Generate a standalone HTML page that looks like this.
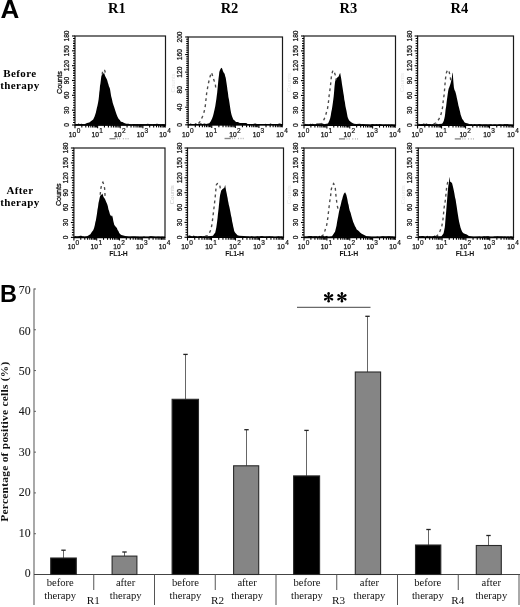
<!DOCTYPE html>
<html><head><meta charset="utf-8"><style>
html,body{margin:0;padding:0;background:#fff;}
body{width:520px;height:607px;overflow:hidden;font-family:"Liberation Sans", sans-serif;}
svg{display:block;will-change:transform;}
</style></head><body>
<svg width="520" height="607" viewBox="0 0 520 607">
<rect width="520" height="607" fill="#fff"/>
<text x="0.4" y="17.9" font-family='"Liberation Sans", sans-serif' font-weight="bold" font-size="26" fill="#000">A</text>
<text x="116.8" y="13.2" text-anchor="middle" font-family='"Liberation Serif", serif' font-weight="bold" font-size="14.5" fill="#000">R1</text>
<text x="229.5" y="13.2" text-anchor="middle" font-family='"Liberation Serif", serif' font-weight="bold" font-size="14.5" fill="#000">R2</text>
<text x="348.3" y="13.2" text-anchor="middle" font-family='"Liberation Serif", serif' font-weight="bold" font-size="14.5" fill="#000">R3</text>
<text x="459.4" y="13.2" text-anchor="middle" font-family='"Liberation Serif", serif' font-weight="bold" font-size="14.5" fill="#000">R4</text>
<text x="19.9" y="76.7" text-anchor="middle" font-family='"Liberation Serif", serif' font-weight="bold" font-size="11" letter-spacing="0.4" fill="#000">Before</text>
<text x="19.9" y="88.9" text-anchor="middle" font-family='"Liberation Serif", serif' font-weight="bold" font-size="11" letter-spacing="0.4" fill="#000">therapy</text>
<text x="19.9" y="193.8" text-anchor="middle" font-family='"Liberation Serif", serif' font-weight="bold" font-size="11" letter-spacing="0.4" fill="#000">After</text>
<text x="19.9" y="206.3" text-anchor="middle" font-family='"Liberation Serif", serif' font-weight="bold" font-size="11" letter-spacing="0.4" fill="#000">therapy</text>
<path d="M75.5,125.0 L76.0,124.0 L77.3,124.2 L78.6,123.6 L79.9,124.3 L81.2,123.8 L82.5,124.0 L83.8,124.3 L85.0,124.1 L87.0,123.0 L89.3,122.4 L91.2,121.0 L93.2,119.4 L94.6,116.4 L95.9,112.5 L96.7,108.7 L97.5,105.5 L98.1,102.5 L98.6,99.5 L99.0,95.9 L99.3,92.5 L99.7,89.7 L100.0,85.7 L100.4,83.7 L100.8,80.5 L101.3,76.5 L101.8,75.0 L102.4,73.9 L103.2,73.7 L104.0,72.7 L104.6,74.6 L105.1,75.9 L105.9,77.4 L106.7,79.0 L107.3,80.6 L107.8,82.4 L108.4,84.2 L108.9,86.3 L109.5,87.4 L110.0,89.1 L110.6,92.7 L111.1,95.9 L111.9,99.0 L112.7,102.7 L113.5,105.2 L114.3,107.6 L115.4,111.1 L116.5,114.3 L117.6,116.9 L118.7,118.9 L119.8,120.0 L120.9,121.8 L122.5,122.0 L124.1,122.9 L126.3,123.8 L128.5,123.8 L130.0,124.3 L131.5,124.7 L133.0,124.1 L134.5,124.0 L136.0,124.2 L137.5,123.9 L139.0,124.4 L140.5,124.1 L142.0,124.2 L143.5,124.2 L145.0,124.3 L146.5,123.9 L148.0,123.8 L149.5,124.3 L151.0,124.1 L152.5,124.6 L154.0,124.1 L155.5,124.1 L157.0,123.8 L158.5,124.0 L160.0,124.4 L161.5,124.4 L163.0,124.1 L165.0,125.0 Z" fill="#000" stroke="none"/>
<path d="M102.2,74.5 L102.6,71.5 L103.5,69.6 L104.5,70.2 L105.1,71.4 L104.8,73.2" fill="none" stroke="#4a4a4a" stroke-width="1.35" stroke-dasharray="2.8,3.2"/>
<rect x="75" y="36" width="90.5" height="89" fill="none" stroke="#1a1a1a" stroke-width="1.2"/>
<line x1="75" y1="125" x2="165.5" y2="125" stroke="#000" stroke-width="1.6"/>
<line x1="72.00" y1="125.00" x2="75" y2="125.00" stroke="#000" stroke-width="1.1"/>
<line x1="73.00" y1="122.53" x2="75" y2="122.53" stroke="#000" stroke-width="1.1"/>
<line x1="73.00" y1="120.06" x2="75" y2="120.06" stroke="#000" stroke-width="1.1"/>
<line x1="73.00" y1="117.58" x2="75" y2="117.58" stroke="#000" stroke-width="1.1"/>
<line x1="73.00" y1="115.11" x2="75" y2="115.11" stroke="#000" stroke-width="1.1"/>
<line x1="73.00" y1="112.64" x2="75" y2="112.64" stroke="#000" stroke-width="1.1"/>
<line x1="72.00" y1="110.17" x2="75" y2="110.17" stroke="#000" stroke-width="1.1"/>
<line x1="73.00" y1="107.69" x2="75" y2="107.69" stroke="#000" stroke-width="1.1"/>
<line x1="73.00" y1="105.22" x2="75" y2="105.22" stroke="#000" stroke-width="1.1"/>
<line x1="73.00" y1="102.75" x2="75" y2="102.75" stroke="#000" stroke-width="1.1"/>
<line x1="73.00" y1="100.28" x2="75" y2="100.28" stroke="#000" stroke-width="1.1"/>
<line x1="73.00" y1="97.81" x2="75" y2="97.81" stroke="#000" stroke-width="1.1"/>
<line x1="72.00" y1="95.33" x2="75" y2="95.33" stroke="#000" stroke-width="1.1"/>
<line x1="73.00" y1="92.86" x2="75" y2="92.86" stroke="#000" stroke-width="1.1"/>
<line x1="73.00" y1="90.39" x2="75" y2="90.39" stroke="#000" stroke-width="1.1"/>
<line x1="73.00" y1="87.92" x2="75" y2="87.92" stroke="#000" stroke-width="1.1"/>
<line x1="73.00" y1="85.44" x2="75" y2="85.44" stroke="#000" stroke-width="1.1"/>
<line x1="73.00" y1="82.97" x2="75" y2="82.97" stroke="#000" stroke-width="1.1"/>
<line x1="72.00" y1="80.50" x2="75" y2="80.50" stroke="#000" stroke-width="1.1"/>
<line x1="73.00" y1="78.03" x2="75" y2="78.03" stroke="#000" stroke-width="1.1"/>
<line x1="73.00" y1="75.56" x2="75" y2="75.56" stroke="#000" stroke-width="1.1"/>
<line x1="73.00" y1="73.08" x2="75" y2="73.08" stroke="#000" stroke-width="1.1"/>
<line x1="73.00" y1="70.61" x2="75" y2="70.61" stroke="#000" stroke-width="1.1"/>
<line x1="73.00" y1="68.14" x2="75" y2="68.14" stroke="#000" stroke-width="1.1"/>
<line x1="72.00" y1="65.67" x2="75" y2="65.67" stroke="#000" stroke-width="1.1"/>
<line x1="73.00" y1="63.19" x2="75" y2="63.19" stroke="#000" stroke-width="1.1"/>
<line x1="73.00" y1="60.72" x2="75" y2="60.72" stroke="#000" stroke-width="1.1"/>
<line x1="73.00" y1="58.25" x2="75" y2="58.25" stroke="#000" stroke-width="1.1"/>
<line x1="73.00" y1="55.78" x2="75" y2="55.78" stroke="#000" stroke-width="1.1"/>
<line x1="73.00" y1="53.31" x2="75" y2="53.31" stroke="#000" stroke-width="1.1"/>
<line x1="72.00" y1="50.83" x2="75" y2="50.83" stroke="#000" stroke-width="1.1"/>
<line x1="73.00" y1="48.36" x2="75" y2="48.36" stroke="#000" stroke-width="1.1"/>
<line x1="73.00" y1="45.89" x2="75" y2="45.89" stroke="#000" stroke-width="1.1"/>
<line x1="73.00" y1="43.42" x2="75" y2="43.42" stroke="#000" stroke-width="1.1"/>
<line x1="73.00" y1="40.94" x2="75" y2="40.94" stroke="#000" stroke-width="1.1"/>
<line x1="73.00" y1="38.47" x2="75" y2="38.47" stroke="#000" stroke-width="1.1"/>
<line x1="72.00" y1="36.00" x2="75" y2="36.00" stroke="#000" stroke-width="1.1"/>
<text transform="translate(69.10,125.00) rotate(-90)" text-anchor="middle" font-family='"Liberation Sans", sans-serif' font-size="6.7" fill="#111" stroke="#111" stroke-width="0.25">0</text>
<text transform="translate(69.10,110.17) rotate(-90)" text-anchor="middle" font-family='"Liberation Sans", sans-serif' font-size="6.7" fill="#111" stroke="#111" stroke-width="0.25">30</text>
<text transform="translate(69.10,95.33) rotate(-90)" text-anchor="middle" font-family='"Liberation Sans", sans-serif' font-size="6.7" fill="#111" stroke="#111" stroke-width="0.25">60</text>
<text transform="translate(69.10,80.50) rotate(-90)" text-anchor="middle" font-family='"Liberation Sans", sans-serif' font-size="6.7" fill="#111" stroke="#111" stroke-width="0.25">90</text>
<text transform="translate(69.10,65.67) rotate(-90)" text-anchor="middle" font-family='"Liberation Sans", sans-serif' font-size="6.7" fill="#111" stroke="#111" stroke-width="0.25">120</text>
<text transform="translate(69.10,50.83) rotate(-90)" text-anchor="middle" font-family='"Liberation Sans", sans-serif' font-size="6.7" fill="#111" stroke="#111" stroke-width="0.25">150</text>
<text transform="translate(69.10,36.00) rotate(-90)" text-anchor="middle" font-family='"Liberation Sans", sans-serif' font-size="6.7" fill="#111" stroke="#111" stroke-width="0.25">180</text>
<line x1="75.00" y1="125" x2="75.00" y2="128.2" stroke="#000" stroke-width="1.1"/>
<line x1="81.81" y1="125" x2="81.81" y2="127.4" stroke="#000" stroke-width="1.1"/>
<line x1="85.79" y1="125" x2="85.79" y2="127.4" stroke="#000" stroke-width="1.1"/>
<line x1="88.62" y1="125" x2="88.62" y2="127.4" stroke="#000" stroke-width="1.1"/>
<line x1="90.81" y1="125" x2="90.81" y2="127.4" stroke="#000" stroke-width="1.1"/>
<line x1="92.61" y1="125" x2="92.61" y2="127.4" stroke="#000" stroke-width="1.1"/>
<line x1="94.12" y1="125" x2="94.12" y2="127.4" stroke="#000" stroke-width="1.1"/>
<line x1="95.43" y1="125" x2="95.43" y2="127.4" stroke="#000" stroke-width="1.1"/>
<line x1="96.59" y1="125" x2="96.59" y2="127.4" stroke="#000" stroke-width="1.1"/>
<line x1="97.62" y1="125" x2="97.62" y2="128.2" stroke="#000" stroke-width="1.1"/>
<line x1="104.44" y1="125" x2="104.44" y2="127.4" stroke="#000" stroke-width="1.1"/>
<line x1="108.42" y1="125" x2="108.42" y2="127.4" stroke="#000" stroke-width="1.1"/>
<line x1="111.25" y1="125" x2="111.25" y2="127.4" stroke="#000" stroke-width="1.1"/>
<line x1="113.44" y1="125" x2="113.44" y2="127.4" stroke="#000" stroke-width="1.1"/>
<line x1="115.23" y1="125" x2="115.23" y2="127.4" stroke="#000" stroke-width="1.1"/>
<line x1="116.75" y1="125" x2="116.75" y2="127.4" stroke="#000" stroke-width="1.1"/>
<line x1="118.06" y1="125" x2="118.06" y2="127.4" stroke="#000" stroke-width="1.1"/>
<line x1="119.21" y1="125" x2="119.21" y2="127.4" stroke="#000" stroke-width="1.1"/>
<line x1="120.25" y1="125" x2="120.25" y2="128.2" stroke="#000" stroke-width="1.1"/>
<line x1="127.06" y1="125" x2="127.06" y2="127.4" stroke="#000" stroke-width="1.1"/>
<line x1="131.04" y1="125" x2="131.04" y2="127.4" stroke="#000" stroke-width="1.1"/>
<line x1="133.87" y1="125" x2="133.87" y2="127.4" stroke="#000" stroke-width="1.1"/>
<line x1="136.06" y1="125" x2="136.06" y2="127.4" stroke="#000" stroke-width="1.1"/>
<line x1="137.86" y1="125" x2="137.86" y2="127.4" stroke="#000" stroke-width="1.1"/>
<line x1="139.37" y1="125" x2="139.37" y2="127.4" stroke="#000" stroke-width="1.1"/>
<line x1="140.68" y1="125" x2="140.68" y2="127.4" stroke="#000" stroke-width="1.1"/>
<line x1="141.84" y1="125" x2="141.84" y2="127.4" stroke="#000" stroke-width="1.1"/>
<line x1="142.88" y1="125" x2="142.88" y2="128.2" stroke="#000" stroke-width="1.1"/>
<line x1="149.69" y1="125" x2="149.69" y2="127.4" stroke="#000" stroke-width="1.1"/>
<line x1="153.67" y1="125" x2="153.67" y2="127.4" stroke="#000" stroke-width="1.1"/>
<line x1="156.50" y1="125" x2="156.50" y2="127.4" stroke="#000" stroke-width="1.1"/>
<line x1="158.69" y1="125" x2="158.69" y2="127.4" stroke="#000" stroke-width="1.1"/>
<line x1="160.48" y1="125" x2="160.48" y2="127.4" stroke="#000" stroke-width="1.1"/>
<line x1="162.00" y1="125" x2="162.00" y2="127.4" stroke="#000" stroke-width="1.1"/>
<line x1="163.31" y1="125" x2="163.31" y2="127.4" stroke="#000" stroke-width="1.1"/>
<line x1="164.46" y1="125" x2="164.46" y2="127.4" stroke="#000" stroke-width="1.1"/>
<line x1="165.50" y1="125" x2="165.50" y2="127.6" stroke="#000" stroke-width="0.8"/>
<text x="76.30" y="136.90" text-anchor="end" font-family='"Liberation Sans", sans-serif' font-size="6.7" fill="#111" stroke="#111" stroke-width="0.25">10</text>
<text x="76.70" y="132.70" text-anchor="start" font-family='"Liberation Sans", sans-serif' font-size="6.5" fill="#111" stroke="#111" stroke-width="0.2">0</text>
<text x="98.92" y="136.90" text-anchor="end" font-family='"Liberation Sans", sans-serif' font-size="6.7" fill="#111" stroke="#111" stroke-width="0.25">10</text>
<text x="99.33" y="132.70" text-anchor="start" font-family='"Liberation Sans", sans-serif' font-size="6.5" fill="#111" stroke="#111" stroke-width="0.2">1</text>
<text x="121.55" y="136.90" text-anchor="end" font-family='"Liberation Sans", sans-serif' font-size="6.7" fill="#111" stroke="#111" stroke-width="0.25">10</text>
<text x="121.95" y="132.70" text-anchor="start" font-family='"Liberation Sans", sans-serif' font-size="6.5" fill="#111" stroke="#111" stroke-width="0.2">2</text>
<text x="144.18" y="136.90" text-anchor="end" font-family='"Liberation Sans", sans-serif' font-size="6.7" fill="#111" stroke="#111" stroke-width="0.25">10</text>
<text x="144.57" y="132.70" text-anchor="start" font-family='"Liberation Sans", sans-serif' font-size="6.5" fill="#111" stroke="#111" stroke-width="0.2">3</text>
<text x="166.80" y="136.90" text-anchor="end" font-family='"Liberation Sans", sans-serif' font-size="6.7" fill="#111" stroke="#111" stroke-width="0.25">10</text>
<text x="167.20" y="132.70" text-anchor="start" font-family='"Liberation Sans", sans-serif' font-size="6.5" fill="#111" stroke="#111" stroke-width="0.2">4</text>
<rect x="109.45" y="138.00" width="6.2" height="1.4" fill="#8a8a8a"/>
<rect x="117.05" y="138.00" width="0.9" height="1.4" fill="#b0b0b0"/>
<rect x="119.25" y="138.00" width="0.9" height="1.4" fill="#b0b0b0"/>
<rect x="122.85" y="138.00" width="0.9" height="1.4" fill="#b0b0b0"/>
<rect x="125.45" y="138.00" width="0.9" height="1.4" fill="#b0b0b0"/>
<rect x="127.65" y="138.00" width="0.9" height="1.4" fill="#b0b0b0"/>
<text transform="translate(61.70,82.50) rotate(-90)" text-anchor="middle" font-family='"Liberation Sans", sans-serif' font-size="7.2" fill="#111" stroke="#111" stroke-width="0.3">Counts</text>
<path d="M188.7,124.8 L189.2,124.2 L190.5,123.6 L191.8,124.0 L193.1,124.1 L194.4,124.1 L195.7,123.3 L197.0,124.0 L198.3,123.9 L199.6,123.7 L200.9,123.2 L202.2,124.1 L203.5,123.7 L204.8,123.5 L206.0,124.1 L209.3,123.3 L210.8,121.3 L212.1,118.5 L213.0,115.9 L213.7,113.2 L214.5,109.8 L215.3,106.1 L215.9,102.1 L216.4,98.8 L216.8,95.6 L217.2,92.4 L217.5,89.3 L217.8,86.2 L218.2,82.1 L218.6,78.1 L219.0,75.1 L219.3,71.9 L220.0,70.1 L220.8,68.6 L221.8,67.8 L222.4,69.3 L222.9,71.0 L223.8,72.7 L224.6,73.7 L225.2,76.2 L225.7,77.7 L226.2,80.9 L226.7,84.2 L227.1,87.0 L227.5,90.3 L228.0,93.3 L228.4,97.1 L229.0,99.8 L229.5,103.1 L230.0,106.4 L230.5,109.7 L231.0,112.6 L231.6,115.0 L232.4,117.2 L233.3,119.5 L234.6,120.6 L236.0,121.9 L237.9,122.0 L239.8,123.1 L243.0,123.1 L246.3,122.9 L247.8,124.3 L249.3,124.2 L250.8,124.2 L252.3,124.4 L253.8,123.7 L255.3,123.6 L256.8,124.1 L258.3,124.1 L259.8,124.4 L261.3,124.4 L262.8,124.2 L264.3,124.3 L265.8,123.8 L267.3,124.4 L268.8,124.5 L270.3,123.6 L271.8,124.0 L273.3,124.4 L274.8,124.0 L276.3,124.5 L277.8,124.0 L279.3,123.6 L280.8,123.7 L282.0,124.8 Z" fill="#000" stroke="none"/>
<path d="M198.5,123.5 L200.4,121.2 L202.5,116.5 L203.9,112.5 L204.7,109.5 L205.2,106.7 L205.9,100.2 L206.6,93.7 L207.7,87.2 L208.4,83.4 L209.3,79.6 L210.4,75.5 L211.5,72.5 L212.7,76.0 L213.7,79.6 L214.5,81.8 L215.3,83.9 L215.9,89.3" fill="none" stroke="#4a4a4a" stroke-width="1.35" stroke-dasharray="2.8,3.2"/>
<rect x="188.2" y="37" width="94.30000000000001" height="87.8" fill="none" stroke="#1a1a1a" stroke-width="1.2"/>
<line x1="188.2" y1="124.8" x2="282.5" y2="124.8" stroke="#000" stroke-width="1.6"/>
<line x1="185.20" y1="124.80" x2="188.2" y2="124.80" stroke="#000" stroke-width="1.1"/>
<line x1="186.20" y1="122.61" x2="188.2" y2="122.61" stroke="#000" stroke-width="1.1"/>
<line x1="186.20" y1="120.41" x2="188.2" y2="120.41" stroke="#000" stroke-width="1.1"/>
<line x1="186.20" y1="118.22" x2="188.2" y2="118.22" stroke="#000" stroke-width="1.1"/>
<line x1="186.20" y1="116.02" x2="188.2" y2="116.02" stroke="#000" stroke-width="1.1"/>
<line x1="186.20" y1="113.83" x2="188.2" y2="113.83" stroke="#000" stroke-width="1.1"/>
<line x1="186.20" y1="111.63" x2="188.2" y2="111.63" stroke="#000" stroke-width="1.1"/>
<line x1="186.20" y1="109.44" x2="188.2" y2="109.44" stroke="#000" stroke-width="1.1"/>
<line x1="185.20" y1="107.24" x2="188.2" y2="107.24" stroke="#000" stroke-width="1.1"/>
<line x1="186.20" y1="105.05" x2="188.2" y2="105.05" stroke="#000" stroke-width="1.1"/>
<line x1="186.20" y1="102.85" x2="188.2" y2="102.85" stroke="#000" stroke-width="1.1"/>
<line x1="186.20" y1="100.66" x2="188.2" y2="100.66" stroke="#000" stroke-width="1.1"/>
<line x1="186.20" y1="98.46" x2="188.2" y2="98.46" stroke="#000" stroke-width="1.1"/>
<line x1="186.20" y1="96.27" x2="188.2" y2="96.27" stroke="#000" stroke-width="1.1"/>
<line x1="186.20" y1="94.07" x2="188.2" y2="94.07" stroke="#000" stroke-width="1.1"/>
<line x1="186.20" y1="91.88" x2="188.2" y2="91.88" stroke="#000" stroke-width="1.1"/>
<line x1="185.20" y1="89.68" x2="188.2" y2="89.68" stroke="#000" stroke-width="1.1"/>
<line x1="186.20" y1="87.48" x2="188.2" y2="87.48" stroke="#000" stroke-width="1.1"/>
<line x1="186.20" y1="85.29" x2="188.2" y2="85.29" stroke="#000" stroke-width="1.1"/>
<line x1="186.20" y1="83.09" x2="188.2" y2="83.09" stroke="#000" stroke-width="1.1"/>
<line x1="186.20" y1="80.90" x2="188.2" y2="80.90" stroke="#000" stroke-width="1.1"/>
<line x1="186.20" y1="78.70" x2="188.2" y2="78.70" stroke="#000" stroke-width="1.1"/>
<line x1="186.20" y1="76.51" x2="188.2" y2="76.51" stroke="#000" stroke-width="1.1"/>
<line x1="186.20" y1="74.31" x2="188.2" y2="74.31" stroke="#000" stroke-width="1.1"/>
<line x1="185.20" y1="72.12" x2="188.2" y2="72.12" stroke="#000" stroke-width="1.1"/>
<line x1="186.20" y1="69.92" x2="188.2" y2="69.92" stroke="#000" stroke-width="1.1"/>
<line x1="186.20" y1="67.73" x2="188.2" y2="67.73" stroke="#000" stroke-width="1.1"/>
<line x1="186.20" y1="65.53" x2="188.2" y2="65.53" stroke="#000" stroke-width="1.1"/>
<line x1="186.20" y1="63.34" x2="188.2" y2="63.34" stroke="#000" stroke-width="1.1"/>
<line x1="186.20" y1="61.15" x2="188.2" y2="61.15" stroke="#000" stroke-width="1.1"/>
<line x1="186.20" y1="58.95" x2="188.2" y2="58.95" stroke="#000" stroke-width="1.1"/>
<line x1="186.20" y1="56.75" x2="188.2" y2="56.75" stroke="#000" stroke-width="1.1"/>
<line x1="185.20" y1="54.56" x2="188.2" y2="54.56" stroke="#000" stroke-width="1.1"/>
<line x1="186.20" y1="52.37" x2="188.2" y2="52.37" stroke="#000" stroke-width="1.1"/>
<line x1="186.20" y1="50.17" x2="188.2" y2="50.17" stroke="#000" stroke-width="1.1"/>
<line x1="186.20" y1="47.97" x2="188.2" y2="47.97" stroke="#000" stroke-width="1.1"/>
<line x1="186.20" y1="45.78" x2="188.2" y2="45.78" stroke="#000" stroke-width="1.1"/>
<line x1="186.20" y1="43.58" x2="188.2" y2="43.58" stroke="#000" stroke-width="1.1"/>
<line x1="186.20" y1="41.39" x2="188.2" y2="41.39" stroke="#000" stroke-width="1.1"/>
<line x1="186.20" y1="39.20" x2="188.2" y2="39.20" stroke="#000" stroke-width="1.1"/>
<line x1="185.20" y1="37.00" x2="188.2" y2="37.00" stroke="#000" stroke-width="1.1"/>
<text transform="translate(182.30,124.80) rotate(-90)" text-anchor="middle" font-family='"Liberation Sans", sans-serif' font-size="6.7" fill="#111" stroke="#111" stroke-width="0.25">0</text>
<text transform="translate(182.30,107.24) rotate(-90)" text-anchor="middle" font-family='"Liberation Sans", sans-serif' font-size="6.7" fill="#111" stroke="#111" stroke-width="0.25">40</text>
<text transform="translate(182.30,89.68) rotate(-90)" text-anchor="middle" font-family='"Liberation Sans", sans-serif' font-size="6.7" fill="#111" stroke="#111" stroke-width="0.25">80</text>
<text transform="translate(182.30,72.12) rotate(-90)" text-anchor="middle" font-family='"Liberation Sans", sans-serif' font-size="6.7" fill="#111" stroke="#111" stroke-width="0.25">120</text>
<text transform="translate(182.30,54.56) rotate(-90)" text-anchor="middle" font-family='"Liberation Sans", sans-serif' font-size="6.7" fill="#111" stroke="#111" stroke-width="0.25">160</text>
<text transform="translate(182.30,37.00) rotate(-90)" text-anchor="middle" font-family='"Liberation Sans", sans-serif' font-size="6.7" fill="#111" stroke="#111" stroke-width="0.25">200</text>
<line x1="188.20" y1="124.8" x2="188.20" y2="128.0" stroke="#000" stroke-width="1.1"/>
<line x1="195.30" y1="124.8" x2="195.30" y2="127.2" stroke="#000" stroke-width="1.1"/>
<line x1="199.45" y1="124.8" x2="199.45" y2="127.2" stroke="#000" stroke-width="1.1"/>
<line x1="202.39" y1="124.8" x2="202.39" y2="127.2" stroke="#000" stroke-width="1.1"/>
<line x1="204.68" y1="124.8" x2="204.68" y2="127.2" stroke="#000" stroke-width="1.1"/>
<line x1="206.54" y1="124.8" x2="206.54" y2="127.2" stroke="#000" stroke-width="1.1"/>
<line x1="208.12" y1="124.8" x2="208.12" y2="127.2" stroke="#000" stroke-width="1.1"/>
<line x1="209.49" y1="124.8" x2="209.49" y2="127.2" stroke="#000" stroke-width="1.1"/>
<line x1="210.70" y1="124.8" x2="210.70" y2="127.2" stroke="#000" stroke-width="1.1"/>
<line x1="211.77" y1="124.8" x2="211.77" y2="128.0" stroke="#000" stroke-width="1.1"/>
<line x1="218.87" y1="124.8" x2="218.87" y2="127.2" stroke="#000" stroke-width="1.1"/>
<line x1="223.02" y1="124.8" x2="223.02" y2="127.2" stroke="#000" stroke-width="1.1"/>
<line x1="225.97" y1="124.8" x2="225.97" y2="127.2" stroke="#000" stroke-width="1.1"/>
<line x1="228.25" y1="124.8" x2="228.25" y2="127.2" stroke="#000" stroke-width="1.1"/>
<line x1="230.12" y1="124.8" x2="230.12" y2="127.2" stroke="#000" stroke-width="1.1"/>
<line x1="231.70" y1="124.8" x2="231.70" y2="127.2" stroke="#000" stroke-width="1.1"/>
<line x1="233.07" y1="124.8" x2="233.07" y2="127.2" stroke="#000" stroke-width="1.1"/>
<line x1="234.27" y1="124.8" x2="234.27" y2="127.2" stroke="#000" stroke-width="1.1"/>
<line x1="235.35" y1="124.8" x2="235.35" y2="128.0" stroke="#000" stroke-width="1.1"/>
<line x1="242.45" y1="124.8" x2="242.45" y2="127.2" stroke="#000" stroke-width="1.1"/>
<line x1="246.60" y1="124.8" x2="246.60" y2="127.2" stroke="#000" stroke-width="1.1"/>
<line x1="249.54" y1="124.8" x2="249.54" y2="127.2" stroke="#000" stroke-width="1.1"/>
<line x1="251.83" y1="124.8" x2="251.83" y2="127.2" stroke="#000" stroke-width="1.1"/>
<line x1="253.69" y1="124.8" x2="253.69" y2="127.2" stroke="#000" stroke-width="1.1"/>
<line x1="255.27" y1="124.8" x2="255.27" y2="127.2" stroke="#000" stroke-width="1.1"/>
<line x1="256.64" y1="124.8" x2="256.64" y2="127.2" stroke="#000" stroke-width="1.1"/>
<line x1="257.85" y1="124.8" x2="257.85" y2="127.2" stroke="#000" stroke-width="1.1"/>
<line x1="258.93" y1="124.8" x2="258.93" y2="128.0" stroke="#000" stroke-width="1.1"/>
<line x1="266.02" y1="124.8" x2="266.02" y2="127.2" stroke="#000" stroke-width="1.1"/>
<line x1="270.17" y1="124.8" x2="270.17" y2="127.2" stroke="#000" stroke-width="1.1"/>
<line x1="273.12" y1="124.8" x2="273.12" y2="127.2" stroke="#000" stroke-width="1.1"/>
<line x1="275.40" y1="124.8" x2="275.40" y2="127.2" stroke="#000" stroke-width="1.1"/>
<line x1="277.27" y1="124.8" x2="277.27" y2="127.2" stroke="#000" stroke-width="1.1"/>
<line x1="278.85" y1="124.8" x2="278.85" y2="127.2" stroke="#000" stroke-width="1.1"/>
<line x1="280.22" y1="124.8" x2="280.22" y2="127.2" stroke="#000" stroke-width="1.1"/>
<line x1="281.42" y1="124.8" x2="281.42" y2="127.2" stroke="#000" stroke-width="1.1"/>
<line x1="282.50" y1="124.8" x2="282.50" y2="127.39999999999999" stroke="#000" stroke-width="0.8"/>
<text x="189.50" y="136.70" text-anchor="end" font-family='"Liberation Sans", sans-serif' font-size="6.7" fill="#111" stroke="#111" stroke-width="0.25">10</text>
<text x="189.90" y="132.50" text-anchor="start" font-family='"Liberation Sans", sans-serif' font-size="6.5" fill="#111" stroke="#111" stroke-width="0.2">0</text>
<text x="213.07" y="136.70" text-anchor="end" font-family='"Liberation Sans", sans-serif' font-size="6.7" fill="#111" stroke="#111" stroke-width="0.25">10</text>
<text x="213.47" y="132.50" text-anchor="start" font-family='"Liberation Sans", sans-serif' font-size="6.5" fill="#111" stroke="#111" stroke-width="0.2">1</text>
<text x="236.65" y="136.70" text-anchor="end" font-family='"Liberation Sans", sans-serif' font-size="6.7" fill="#111" stroke="#111" stroke-width="0.25">10</text>
<text x="237.05" y="132.50" text-anchor="start" font-family='"Liberation Sans", sans-serif' font-size="6.5" fill="#111" stroke="#111" stroke-width="0.2">2</text>
<text x="260.23" y="136.70" text-anchor="end" font-family='"Liberation Sans", sans-serif' font-size="6.7" fill="#111" stroke="#111" stroke-width="0.25">10</text>
<text x="260.62" y="132.50" text-anchor="start" font-family='"Liberation Sans", sans-serif' font-size="6.5" fill="#111" stroke="#111" stroke-width="0.2">3</text>
<text x="283.80" y="136.70" text-anchor="end" font-family='"Liberation Sans", sans-serif' font-size="6.7" fill="#111" stroke="#111" stroke-width="0.25">10</text>
<text x="284.20" y="132.50" text-anchor="start" font-family='"Liberation Sans", sans-serif' font-size="6.5" fill="#111" stroke="#111" stroke-width="0.2">4</text>
<rect x="224.55" y="137.80" width="6.2" height="1.4" fill="#8a8a8a"/>
<rect x="232.15" y="137.80" width="0.9" height="1.4" fill="#b0b0b0"/>
<rect x="234.35" y="137.80" width="0.9" height="1.4" fill="#b0b0b0"/>
<rect x="237.95" y="137.80" width="0.9" height="1.4" fill="#b0b0b0"/>
<rect x="240.55" y="137.80" width="0.9" height="1.4" fill="#b0b0b0"/>
<rect x="242.75" y="137.80" width="0.9" height="1.4" fill="#b0b0b0"/>
<text transform="translate(174.90,82.90) rotate(-90)" text-anchor="middle" font-family='"Liberation Sans", sans-serif' font-size="6" fill="#e6e6e6">Counts</text>
<path d="M304.5,125.2 L305.0,123.8 L306.3,124.3 L307.6,124.2 L308.9,124.4 L310.2,123.7 L311.5,124.0 L312.8,123.7 L314.1,124.2 L315.4,124.3 L316.7,123.6 L318.0,123.4 L319.3,123.6 L320.6,123.6 L321.9,123.6 L323.2,123.7 L324.5,124.3 L325.0,124.0 L328.0,123.5 L329.2,120.9 L330.2,118.3 L330.8,115.3 L331.3,112.0 L331.9,109.2 L332.4,106.1 L332.9,102.4 L333.3,99.5 L333.7,96.2 L334.0,93.0 L334.3,89.2 L334.6,85.8 L335.1,81.5 L335.6,79.9 L336.2,78.7 L337.3,77.5 L338.4,76.7 L339.0,75.5 L339.5,74.1 L340.2,73.1 L340.7,76.1 L341.1,78.1 L341.6,81.3 L342.0,84.3 L342.7,88.6 L343.1,91.2 L343.5,93.7 L343.9,96.1 L344.3,99.4 L344.9,102.2 L345.4,106.0 L346.0,108.8 L346.5,111.0 L347.0,113.7 L347.6,116.9 L348.4,118.9 L349.2,120.6 L350.6,121.7 L352.0,122.7 L354.0,123.8 L356.3,123.9 L360.0,123.7 L361.5,124.2 L363.0,124.0 L364.5,124.3 L366.0,124.6 L367.5,124.4 L369.0,124.8 L370.5,124.9 L372.0,124.0 L373.5,124.3 L375.0,124.4 L376.5,124.1 L378.0,124.5 L379.5,124.1 L381.0,124.2 L382.5,124.7 L384.0,124.7 L385.5,124.6 L387.0,124.7 L388.5,124.4 L390.0,124.7 L391.5,124.5 L393.0,124.8 L395.0,125.2 Z" fill="#000" stroke="none"/>
<path d="M319.5,124.2 L321.5,123.6 L322.9,121.4 L324.2,119.2 L325.1,116.7 L325.9,114.3 L326.7,111.6 L327.5,108.9 L328.3,103.5 L329.1,95.9 L330.0,89.3 L330.8,82.8 L331.3,77.4 L332.0,73.5 L332.9,70.3 L333.8,71.5 L334.6,73.0 L335.7,76.3 L336.2,80.1" fill="none" stroke="#4a4a4a" stroke-width="1.35" stroke-dasharray="2.8,3.2"/>
<rect x="304" y="36" width="91.5" height="89.2" fill="none" stroke="#1a1a1a" stroke-width="1.2"/>
<line x1="304" y1="125.2" x2="395.5" y2="125.2" stroke="#000" stroke-width="1.6"/>
<line x1="301.00" y1="125.20" x2="304" y2="125.20" stroke="#000" stroke-width="1.1"/>
<line x1="302.00" y1="122.72" x2="304" y2="122.72" stroke="#000" stroke-width="1.1"/>
<line x1="302.00" y1="120.24" x2="304" y2="120.24" stroke="#000" stroke-width="1.1"/>
<line x1="302.00" y1="117.77" x2="304" y2="117.77" stroke="#000" stroke-width="1.1"/>
<line x1="302.00" y1="115.29" x2="304" y2="115.29" stroke="#000" stroke-width="1.1"/>
<line x1="302.00" y1="112.81" x2="304" y2="112.81" stroke="#000" stroke-width="1.1"/>
<line x1="301.00" y1="110.33" x2="304" y2="110.33" stroke="#000" stroke-width="1.1"/>
<line x1="302.00" y1="107.86" x2="304" y2="107.86" stroke="#000" stroke-width="1.1"/>
<line x1="302.00" y1="105.38" x2="304" y2="105.38" stroke="#000" stroke-width="1.1"/>
<line x1="302.00" y1="102.90" x2="304" y2="102.90" stroke="#000" stroke-width="1.1"/>
<line x1="302.00" y1="100.42" x2="304" y2="100.42" stroke="#000" stroke-width="1.1"/>
<line x1="302.00" y1="97.94" x2="304" y2="97.94" stroke="#000" stroke-width="1.1"/>
<line x1="301.00" y1="95.47" x2="304" y2="95.47" stroke="#000" stroke-width="1.1"/>
<line x1="302.00" y1="92.99" x2="304" y2="92.99" stroke="#000" stroke-width="1.1"/>
<line x1="302.00" y1="90.51" x2="304" y2="90.51" stroke="#000" stroke-width="1.1"/>
<line x1="302.00" y1="88.03" x2="304" y2="88.03" stroke="#000" stroke-width="1.1"/>
<line x1="302.00" y1="85.56" x2="304" y2="85.56" stroke="#000" stroke-width="1.1"/>
<line x1="302.00" y1="83.08" x2="304" y2="83.08" stroke="#000" stroke-width="1.1"/>
<line x1="301.00" y1="80.60" x2="304" y2="80.60" stroke="#000" stroke-width="1.1"/>
<line x1="302.00" y1="78.12" x2="304" y2="78.12" stroke="#000" stroke-width="1.1"/>
<line x1="302.00" y1="75.64" x2="304" y2="75.64" stroke="#000" stroke-width="1.1"/>
<line x1="302.00" y1="73.17" x2="304" y2="73.17" stroke="#000" stroke-width="1.1"/>
<line x1="302.00" y1="70.69" x2="304" y2="70.69" stroke="#000" stroke-width="1.1"/>
<line x1="302.00" y1="68.21" x2="304" y2="68.21" stroke="#000" stroke-width="1.1"/>
<line x1="301.00" y1="65.73" x2="304" y2="65.73" stroke="#000" stroke-width="1.1"/>
<line x1="302.00" y1="63.26" x2="304" y2="63.26" stroke="#000" stroke-width="1.1"/>
<line x1="302.00" y1="60.78" x2="304" y2="60.78" stroke="#000" stroke-width="1.1"/>
<line x1="302.00" y1="58.30" x2="304" y2="58.30" stroke="#000" stroke-width="1.1"/>
<line x1="302.00" y1="55.82" x2="304" y2="55.82" stroke="#000" stroke-width="1.1"/>
<line x1="302.00" y1="53.34" x2="304" y2="53.34" stroke="#000" stroke-width="1.1"/>
<line x1="301.00" y1="50.87" x2="304" y2="50.87" stroke="#000" stroke-width="1.1"/>
<line x1="302.00" y1="48.39" x2="304" y2="48.39" stroke="#000" stroke-width="1.1"/>
<line x1="302.00" y1="45.91" x2="304" y2="45.91" stroke="#000" stroke-width="1.1"/>
<line x1="302.00" y1="43.43" x2="304" y2="43.43" stroke="#000" stroke-width="1.1"/>
<line x1="302.00" y1="40.96" x2="304" y2="40.96" stroke="#000" stroke-width="1.1"/>
<line x1="302.00" y1="38.48" x2="304" y2="38.48" stroke="#000" stroke-width="1.1"/>
<line x1="301.00" y1="36.00" x2="304" y2="36.00" stroke="#000" stroke-width="1.1"/>
<text transform="translate(298.10,125.20) rotate(-90)" text-anchor="middle" font-family='"Liberation Sans", sans-serif' font-size="6.7" fill="#111" stroke="#111" stroke-width="0.25">0</text>
<text transform="translate(298.10,110.33) rotate(-90)" text-anchor="middle" font-family='"Liberation Sans", sans-serif' font-size="6.7" fill="#111" stroke="#111" stroke-width="0.25">30</text>
<text transform="translate(298.10,95.47) rotate(-90)" text-anchor="middle" font-family='"Liberation Sans", sans-serif' font-size="6.7" fill="#111" stroke="#111" stroke-width="0.25">60</text>
<text transform="translate(298.10,80.60) rotate(-90)" text-anchor="middle" font-family='"Liberation Sans", sans-serif' font-size="6.7" fill="#111" stroke="#111" stroke-width="0.25">90</text>
<text transform="translate(298.10,65.73) rotate(-90)" text-anchor="middle" font-family='"Liberation Sans", sans-serif' font-size="6.7" fill="#111" stroke="#111" stroke-width="0.25">120</text>
<text transform="translate(298.10,50.87) rotate(-90)" text-anchor="middle" font-family='"Liberation Sans", sans-serif' font-size="6.7" fill="#111" stroke="#111" stroke-width="0.25">150</text>
<text transform="translate(298.10,36.00) rotate(-90)" text-anchor="middle" font-family='"Liberation Sans", sans-serif' font-size="6.7" fill="#111" stroke="#111" stroke-width="0.25">180</text>
<line x1="304.00" y1="125.2" x2="304.00" y2="128.4" stroke="#000" stroke-width="1.1"/>
<line x1="310.89" y1="125.2" x2="310.89" y2="127.60000000000001" stroke="#000" stroke-width="1.1"/>
<line x1="314.91" y1="125.2" x2="314.91" y2="127.60000000000001" stroke="#000" stroke-width="1.1"/>
<line x1="317.77" y1="125.2" x2="317.77" y2="127.60000000000001" stroke="#000" stroke-width="1.1"/>
<line x1="319.99" y1="125.2" x2="319.99" y2="127.60000000000001" stroke="#000" stroke-width="1.1"/>
<line x1="321.80" y1="125.2" x2="321.80" y2="127.60000000000001" stroke="#000" stroke-width="1.1"/>
<line x1="323.33" y1="125.2" x2="323.33" y2="127.60000000000001" stroke="#000" stroke-width="1.1"/>
<line x1="324.66" y1="125.2" x2="324.66" y2="127.60000000000001" stroke="#000" stroke-width="1.1"/>
<line x1="325.83" y1="125.2" x2="325.83" y2="127.60000000000001" stroke="#000" stroke-width="1.1"/>
<line x1="326.88" y1="125.2" x2="326.88" y2="128.4" stroke="#000" stroke-width="1.1"/>
<line x1="333.76" y1="125.2" x2="333.76" y2="127.60000000000001" stroke="#000" stroke-width="1.1"/>
<line x1="337.79" y1="125.2" x2="337.79" y2="127.60000000000001" stroke="#000" stroke-width="1.1"/>
<line x1="340.65" y1="125.2" x2="340.65" y2="127.60000000000001" stroke="#000" stroke-width="1.1"/>
<line x1="342.86" y1="125.2" x2="342.86" y2="127.60000000000001" stroke="#000" stroke-width="1.1"/>
<line x1="344.68" y1="125.2" x2="344.68" y2="127.60000000000001" stroke="#000" stroke-width="1.1"/>
<line x1="346.21" y1="125.2" x2="346.21" y2="127.60000000000001" stroke="#000" stroke-width="1.1"/>
<line x1="347.53" y1="125.2" x2="347.53" y2="127.60000000000001" stroke="#000" stroke-width="1.1"/>
<line x1="348.70" y1="125.2" x2="348.70" y2="127.60000000000001" stroke="#000" stroke-width="1.1"/>
<line x1="349.75" y1="125.2" x2="349.75" y2="128.4" stroke="#000" stroke-width="1.1"/>
<line x1="356.64" y1="125.2" x2="356.64" y2="127.60000000000001" stroke="#000" stroke-width="1.1"/>
<line x1="360.66" y1="125.2" x2="360.66" y2="127.60000000000001" stroke="#000" stroke-width="1.1"/>
<line x1="363.52" y1="125.2" x2="363.52" y2="127.60000000000001" stroke="#000" stroke-width="1.1"/>
<line x1="365.74" y1="125.2" x2="365.74" y2="127.60000000000001" stroke="#000" stroke-width="1.1"/>
<line x1="367.55" y1="125.2" x2="367.55" y2="127.60000000000001" stroke="#000" stroke-width="1.1"/>
<line x1="369.08" y1="125.2" x2="369.08" y2="127.60000000000001" stroke="#000" stroke-width="1.1"/>
<line x1="370.41" y1="125.2" x2="370.41" y2="127.60000000000001" stroke="#000" stroke-width="1.1"/>
<line x1="371.58" y1="125.2" x2="371.58" y2="127.60000000000001" stroke="#000" stroke-width="1.1"/>
<line x1="372.62" y1="125.2" x2="372.62" y2="128.4" stroke="#000" stroke-width="1.1"/>
<line x1="379.51" y1="125.2" x2="379.51" y2="127.60000000000001" stroke="#000" stroke-width="1.1"/>
<line x1="383.54" y1="125.2" x2="383.54" y2="127.60000000000001" stroke="#000" stroke-width="1.1"/>
<line x1="386.40" y1="125.2" x2="386.40" y2="127.60000000000001" stroke="#000" stroke-width="1.1"/>
<line x1="388.61" y1="125.2" x2="388.61" y2="127.60000000000001" stroke="#000" stroke-width="1.1"/>
<line x1="390.43" y1="125.2" x2="390.43" y2="127.60000000000001" stroke="#000" stroke-width="1.1"/>
<line x1="391.96" y1="125.2" x2="391.96" y2="127.60000000000001" stroke="#000" stroke-width="1.1"/>
<line x1="393.28" y1="125.2" x2="393.28" y2="127.60000000000001" stroke="#000" stroke-width="1.1"/>
<line x1="394.45" y1="125.2" x2="394.45" y2="127.60000000000001" stroke="#000" stroke-width="1.1"/>
<line x1="395.50" y1="125.2" x2="395.50" y2="127.8" stroke="#000" stroke-width="0.8"/>
<text x="305.30" y="137.10" text-anchor="end" font-family='"Liberation Sans", sans-serif' font-size="6.7" fill="#111" stroke="#111" stroke-width="0.25">10</text>
<text x="305.70" y="132.90" text-anchor="start" font-family='"Liberation Sans", sans-serif' font-size="6.5" fill="#111" stroke="#111" stroke-width="0.2">0</text>
<text x="328.18" y="137.10" text-anchor="end" font-family='"Liberation Sans", sans-serif' font-size="6.7" fill="#111" stroke="#111" stroke-width="0.25">10</text>
<text x="328.57" y="132.90" text-anchor="start" font-family='"Liberation Sans", sans-serif' font-size="6.5" fill="#111" stroke="#111" stroke-width="0.2">1</text>
<text x="351.05" y="137.10" text-anchor="end" font-family='"Liberation Sans", sans-serif' font-size="6.7" fill="#111" stroke="#111" stroke-width="0.25">10</text>
<text x="351.45" y="132.90" text-anchor="start" font-family='"Liberation Sans", sans-serif' font-size="6.5" fill="#111" stroke="#111" stroke-width="0.2">2</text>
<text x="373.93" y="137.10" text-anchor="end" font-family='"Liberation Sans", sans-serif' font-size="6.7" fill="#111" stroke="#111" stroke-width="0.25">10</text>
<text x="374.32" y="132.90" text-anchor="start" font-family='"Liberation Sans", sans-serif' font-size="6.5" fill="#111" stroke="#111" stroke-width="0.2">3</text>
<text x="396.80" y="137.10" text-anchor="end" font-family='"Liberation Sans", sans-serif' font-size="6.7" fill="#111" stroke="#111" stroke-width="0.25">10</text>
<text x="397.20" y="132.90" text-anchor="start" font-family='"Liberation Sans", sans-serif' font-size="6.5" fill="#111" stroke="#111" stroke-width="0.2">4</text>
<rect x="338.95" y="138.20" width="6.2" height="1.4" fill="#8a8a8a"/>
<rect x="346.55" y="138.20" width="0.9" height="1.4" fill="#b0b0b0"/>
<rect x="348.75" y="138.20" width="0.9" height="1.4" fill="#b0b0b0"/>
<rect x="352.35" y="138.20" width="0.9" height="1.4" fill="#b0b0b0"/>
<rect x="354.95" y="138.20" width="0.9" height="1.4" fill="#b0b0b0"/>
<rect x="357.15" y="138.20" width="0.9" height="1.4" fill="#b0b0b0"/>
<text transform="translate(290.70,82.60) rotate(-90)" text-anchor="middle" font-family='"Liberation Sans", sans-serif' font-size="6" fill="#e6e6e6">Counts</text>
<path d="M418.1,125.2 L418.6,123.5 L419.9,124.2 L421.2,124.1 L422.5,123.9 L423.8,123.5 L425.1,124.1 L426.4,123.5 L427.7,124.0 L429.0,124.0 L430.3,124.0 L431.6,124.6 L432.9,124.1 L434.2,124.4 L435.5,124.6 L436.8,123.6 L438.1,124.4 L439.0,124.0 L442.1,123.8 L443.0,122.5 L443.8,120.7 L444.3,118.7 L444.8,116.5 L445.2,113.6 L445.6,109.6 L446.1,106.8 L446.5,103.3 L446.9,100.0 L447.3,97.2 L447.7,94.2 L448.1,91.6 L448.7,88.5 L449.2,87.6 L449.7,86.0 L450.4,84.1 L451.0,81.7 L451.5,79.5 L451.9,77.6 L452.2,73.5 L452.5,72.5 L452.8,74.5 L453.0,76.7 L453.4,82.2 L453.9,87.5 L454.5,89.9 L455.2,91.3 L455.8,93.3 L456.3,95.2 L456.8,97.8 L457.3,99.9 L457.9,102.7 L458.4,105.6 L459.0,107.6 L459.5,109.8 L460.0,111.6 L460.6,114.5 L461.4,116.8 L462.2,119.1 L463.3,120.2 L464.4,122.2 L465.7,123.0 L467.1,123.3 L470.0,124.3 L471.5,124.0 L473.0,124.7 L474.5,124.0 L476.0,124.5 L477.5,124.5 L479.0,124.0 L480.5,124.2 L482.0,124.8 L483.5,124.5 L485.0,124.4 L486.5,124.6 L488.0,124.7 L489.5,124.6 L491.0,124.3 L492.5,124.9 L494.0,124.4 L495.5,124.5 L497.0,124.9 L498.5,124.6 L500.0,124.3 L501.5,124.4 L503.0,124.8 L504.5,124.0 L506.0,124.2 L507.5,124.0 L509.0,124.8 L510.5,124.7 L512.0,124.9 L513.0,125.2 Z" fill="#000" stroke="none"/>
<path d="M433.5,124.0 L435.6,123.0 L437.3,121.2 L438.9,119.2 L440.0,116.8 L441.0,114.3 L441.8,111.0 L442.5,107.8 L443.2,101.3 L444.1,94.8 L444.6,89.3 L445.2,81.7 L445.9,75.2 L446.6,72.2 L447.6,69.8 L448.4,70.6 L449.2,72.0 L450.3,77.4 L450.8,80.7" fill="none" stroke="#4a4a4a" stroke-width="1.35" stroke-dasharray="2.8,3.2"/>
<rect x="417.6" y="36" width="95.89999999999998" height="89.2" fill="none" stroke="#1a1a1a" stroke-width="1.2"/>
<line x1="417.6" y1="125.2" x2="513.5" y2="125.2" stroke="#000" stroke-width="1.6"/>
<line x1="414.60" y1="125.20" x2="417.6" y2="125.20" stroke="#000" stroke-width="1.1"/>
<line x1="415.60" y1="122.72" x2="417.6" y2="122.72" stroke="#000" stroke-width="1.1"/>
<line x1="415.60" y1="120.24" x2="417.6" y2="120.24" stroke="#000" stroke-width="1.1"/>
<line x1="415.60" y1="117.77" x2="417.6" y2="117.77" stroke="#000" stroke-width="1.1"/>
<line x1="415.60" y1="115.29" x2="417.6" y2="115.29" stroke="#000" stroke-width="1.1"/>
<line x1="415.60" y1="112.81" x2="417.6" y2="112.81" stroke="#000" stroke-width="1.1"/>
<line x1="414.60" y1="110.33" x2="417.6" y2="110.33" stroke="#000" stroke-width="1.1"/>
<line x1="415.60" y1="107.86" x2="417.6" y2="107.86" stroke="#000" stroke-width="1.1"/>
<line x1="415.60" y1="105.38" x2="417.6" y2="105.38" stroke="#000" stroke-width="1.1"/>
<line x1="415.60" y1="102.90" x2="417.6" y2="102.90" stroke="#000" stroke-width="1.1"/>
<line x1="415.60" y1="100.42" x2="417.6" y2="100.42" stroke="#000" stroke-width="1.1"/>
<line x1="415.60" y1="97.94" x2="417.6" y2="97.94" stroke="#000" stroke-width="1.1"/>
<line x1="414.60" y1="95.47" x2="417.6" y2="95.47" stroke="#000" stroke-width="1.1"/>
<line x1="415.60" y1="92.99" x2="417.6" y2="92.99" stroke="#000" stroke-width="1.1"/>
<line x1="415.60" y1="90.51" x2="417.6" y2="90.51" stroke="#000" stroke-width="1.1"/>
<line x1="415.60" y1="88.03" x2="417.6" y2="88.03" stroke="#000" stroke-width="1.1"/>
<line x1="415.60" y1="85.56" x2="417.6" y2="85.56" stroke="#000" stroke-width="1.1"/>
<line x1="415.60" y1="83.08" x2="417.6" y2="83.08" stroke="#000" stroke-width="1.1"/>
<line x1="414.60" y1="80.60" x2="417.6" y2="80.60" stroke="#000" stroke-width="1.1"/>
<line x1="415.60" y1="78.12" x2="417.6" y2="78.12" stroke="#000" stroke-width="1.1"/>
<line x1="415.60" y1="75.64" x2="417.6" y2="75.64" stroke="#000" stroke-width="1.1"/>
<line x1="415.60" y1="73.17" x2="417.6" y2="73.17" stroke="#000" stroke-width="1.1"/>
<line x1="415.60" y1="70.69" x2="417.6" y2="70.69" stroke="#000" stroke-width="1.1"/>
<line x1="415.60" y1="68.21" x2="417.6" y2="68.21" stroke="#000" stroke-width="1.1"/>
<line x1="414.60" y1="65.73" x2="417.6" y2="65.73" stroke="#000" stroke-width="1.1"/>
<line x1="415.60" y1="63.26" x2="417.6" y2="63.26" stroke="#000" stroke-width="1.1"/>
<line x1="415.60" y1="60.78" x2="417.6" y2="60.78" stroke="#000" stroke-width="1.1"/>
<line x1="415.60" y1="58.30" x2="417.6" y2="58.30" stroke="#000" stroke-width="1.1"/>
<line x1="415.60" y1="55.82" x2="417.6" y2="55.82" stroke="#000" stroke-width="1.1"/>
<line x1="415.60" y1="53.34" x2="417.6" y2="53.34" stroke="#000" stroke-width="1.1"/>
<line x1="414.60" y1="50.87" x2="417.6" y2="50.87" stroke="#000" stroke-width="1.1"/>
<line x1="415.60" y1="48.39" x2="417.6" y2="48.39" stroke="#000" stroke-width="1.1"/>
<line x1="415.60" y1="45.91" x2="417.6" y2="45.91" stroke="#000" stroke-width="1.1"/>
<line x1="415.60" y1="43.43" x2="417.6" y2="43.43" stroke="#000" stroke-width="1.1"/>
<line x1="415.60" y1="40.96" x2="417.6" y2="40.96" stroke="#000" stroke-width="1.1"/>
<line x1="415.60" y1="38.48" x2="417.6" y2="38.48" stroke="#000" stroke-width="1.1"/>
<line x1="414.60" y1="36.00" x2="417.6" y2="36.00" stroke="#000" stroke-width="1.1"/>
<text transform="translate(411.70,125.20) rotate(-90)" text-anchor="middle" font-family='"Liberation Sans", sans-serif' font-size="6.7" fill="#111" stroke="#111" stroke-width="0.25">0</text>
<text transform="translate(411.70,110.33) rotate(-90)" text-anchor="middle" font-family='"Liberation Sans", sans-serif' font-size="6.7" fill="#111" stroke="#111" stroke-width="0.25">30</text>
<text transform="translate(411.70,95.47) rotate(-90)" text-anchor="middle" font-family='"Liberation Sans", sans-serif' font-size="6.7" fill="#111" stroke="#111" stroke-width="0.25">60</text>
<text transform="translate(411.70,80.60) rotate(-90)" text-anchor="middle" font-family='"Liberation Sans", sans-serif' font-size="6.7" fill="#111" stroke="#111" stroke-width="0.25">90</text>
<text transform="translate(411.70,65.73) rotate(-90)" text-anchor="middle" font-family='"Liberation Sans", sans-serif' font-size="6.7" fill="#111" stroke="#111" stroke-width="0.25">120</text>
<text transform="translate(411.70,50.87) rotate(-90)" text-anchor="middle" font-family='"Liberation Sans", sans-serif' font-size="6.7" fill="#111" stroke="#111" stroke-width="0.25">150</text>
<text transform="translate(411.70,36.00) rotate(-90)" text-anchor="middle" font-family='"Liberation Sans", sans-serif' font-size="6.7" fill="#111" stroke="#111" stroke-width="0.25">180</text>
<line x1="417.60" y1="125.2" x2="417.60" y2="128.4" stroke="#000" stroke-width="1.1"/>
<line x1="424.82" y1="125.2" x2="424.82" y2="127.60000000000001" stroke="#000" stroke-width="1.1"/>
<line x1="429.04" y1="125.2" x2="429.04" y2="127.60000000000001" stroke="#000" stroke-width="1.1"/>
<line x1="432.03" y1="125.2" x2="432.03" y2="127.60000000000001" stroke="#000" stroke-width="1.1"/>
<line x1="434.36" y1="125.2" x2="434.36" y2="127.60000000000001" stroke="#000" stroke-width="1.1"/>
<line x1="436.26" y1="125.2" x2="436.26" y2="127.60000000000001" stroke="#000" stroke-width="1.1"/>
<line x1="437.86" y1="125.2" x2="437.86" y2="127.60000000000001" stroke="#000" stroke-width="1.1"/>
<line x1="439.25" y1="125.2" x2="439.25" y2="127.60000000000001" stroke="#000" stroke-width="1.1"/>
<line x1="440.48" y1="125.2" x2="440.48" y2="127.60000000000001" stroke="#000" stroke-width="1.1"/>
<line x1="441.58" y1="125.2" x2="441.58" y2="128.4" stroke="#000" stroke-width="1.1"/>
<line x1="448.79" y1="125.2" x2="448.79" y2="127.60000000000001" stroke="#000" stroke-width="1.1"/>
<line x1="453.01" y1="125.2" x2="453.01" y2="127.60000000000001" stroke="#000" stroke-width="1.1"/>
<line x1="456.01" y1="125.2" x2="456.01" y2="127.60000000000001" stroke="#000" stroke-width="1.1"/>
<line x1="458.33" y1="125.2" x2="458.33" y2="127.60000000000001" stroke="#000" stroke-width="1.1"/>
<line x1="460.23" y1="125.2" x2="460.23" y2="127.60000000000001" stroke="#000" stroke-width="1.1"/>
<line x1="461.84" y1="125.2" x2="461.84" y2="127.60000000000001" stroke="#000" stroke-width="1.1"/>
<line x1="463.23" y1="125.2" x2="463.23" y2="127.60000000000001" stroke="#000" stroke-width="1.1"/>
<line x1="464.45" y1="125.2" x2="464.45" y2="127.60000000000001" stroke="#000" stroke-width="1.1"/>
<line x1="465.55" y1="125.2" x2="465.55" y2="128.4" stroke="#000" stroke-width="1.1"/>
<line x1="472.77" y1="125.2" x2="472.77" y2="127.60000000000001" stroke="#000" stroke-width="1.1"/>
<line x1="476.99" y1="125.2" x2="476.99" y2="127.60000000000001" stroke="#000" stroke-width="1.1"/>
<line x1="479.98" y1="125.2" x2="479.98" y2="127.60000000000001" stroke="#000" stroke-width="1.1"/>
<line x1="482.31" y1="125.2" x2="482.31" y2="127.60000000000001" stroke="#000" stroke-width="1.1"/>
<line x1="484.21" y1="125.2" x2="484.21" y2="127.60000000000001" stroke="#000" stroke-width="1.1"/>
<line x1="485.81" y1="125.2" x2="485.81" y2="127.60000000000001" stroke="#000" stroke-width="1.1"/>
<line x1="487.20" y1="125.2" x2="487.20" y2="127.60000000000001" stroke="#000" stroke-width="1.1"/>
<line x1="488.43" y1="125.2" x2="488.43" y2="127.60000000000001" stroke="#000" stroke-width="1.1"/>
<line x1="489.52" y1="125.2" x2="489.52" y2="128.4" stroke="#000" stroke-width="1.1"/>
<line x1="496.74" y1="125.2" x2="496.74" y2="127.60000000000001" stroke="#000" stroke-width="1.1"/>
<line x1="500.96" y1="125.2" x2="500.96" y2="127.60000000000001" stroke="#000" stroke-width="1.1"/>
<line x1="503.96" y1="125.2" x2="503.96" y2="127.60000000000001" stroke="#000" stroke-width="1.1"/>
<line x1="506.28" y1="125.2" x2="506.28" y2="127.60000000000001" stroke="#000" stroke-width="1.1"/>
<line x1="508.18" y1="125.2" x2="508.18" y2="127.60000000000001" stroke="#000" stroke-width="1.1"/>
<line x1="509.79" y1="125.2" x2="509.79" y2="127.60000000000001" stroke="#000" stroke-width="1.1"/>
<line x1="511.18" y1="125.2" x2="511.18" y2="127.60000000000001" stroke="#000" stroke-width="1.1"/>
<line x1="512.40" y1="125.2" x2="512.40" y2="127.60000000000001" stroke="#000" stroke-width="1.1"/>
<line x1="513.50" y1="125.2" x2="513.50" y2="127.8" stroke="#000" stroke-width="0.8"/>
<text x="418.90" y="137.10" text-anchor="end" font-family='"Liberation Sans", sans-serif' font-size="6.7" fill="#111" stroke="#111" stroke-width="0.25">10</text>
<text x="419.30" y="132.90" text-anchor="start" font-family='"Liberation Sans", sans-serif' font-size="6.5" fill="#111" stroke="#111" stroke-width="0.2">0</text>
<text x="442.88" y="137.10" text-anchor="end" font-family='"Liberation Sans", sans-serif' font-size="6.7" fill="#111" stroke="#111" stroke-width="0.25">10</text>
<text x="443.28" y="132.90" text-anchor="start" font-family='"Liberation Sans", sans-serif' font-size="6.5" fill="#111" stroke="#111" stroke-width="0.2">1</text>
<text x="466.85" y="137.10" text-anchor="end" font-family='"Liberation Sans", sans-serif' font-size="6.7" fill="#111" stroke="#111" stroke-width="0.25">10</text>
<text x="467.25" y="132.90" text-anchor="start" font-family='"Liberation Sans", sans-serif' font-size="6.5" fill="#111" stroke="#111" stroke-width="0.2">2</text>
<text x="490.82" y="137.10" text-anchor="end" font-family='"Liberation Sans", sans-serif' font-size="6.7" fill="#111" stroke="#111" stroke-width="0.25">10</text>
<text x="491.22" y="132.90" text-anchor="start" font-family='"Liberation Sans", sans-serif' font-size="6.5" fill="#111" stroke="#111" stroke-width="0.2">3</text>
<text x="514.80" y="137.10" text-anchor="end" font-family='"Liberation Sans", sans-serif' font-size="6.7" fill="#111" stroke="#111" stroke-width="0.25">10</text>
<text x="515.20" y="132.90" text-anchor="start" font-family='"Liberation Sans", sans-serif' font-size="6.5" fill="#111" stroke="#111" stroke-width="0.2">4</text>
<rect x="454.75" y="138.20" width="6.2" height="1.4" fill="#8a8a8a"/>
<rect x="462.35" y="138.20" width="0.9" height="1.4" fill="#b0b0b0"/>
<rect x="464.55" y="138.20" width="0.9" height="1.4" fill="#b0b0b0"/>
<rect x="468.15" y="138.20" width="0.9" height="1.4" fill="#b0b0b0"/>
<rect x="470.75" y="138.20" width="0.9" height="1.4" fill="#b0b0b0"/>
<rect x="472.95" y="138.20" width="0.9" height="1.4" fill="#b0b0b0"/>
<text transform="translate(404.30,82.60) rotate(-90)" text-anchor="middle" font-family='"Liberation Sans", sans-serif' font-size="6" fill="#e6e6e6">Counts</text>
<path d="M74.4,237.4 L74.9,235.9 L76.2,236.5 L77.5,236.6 L78.8,236.3 L80.1,235.7 L81.4,235.8 L82.7,236.5 L84.0,236.6 L84.0,237.0 L87.2,236.2 L90.4,234.2 L91.8,232.1 L93.2,230.3 L94.0,228.2 L94.8,225.2 L95.4,222.1 L95.9,220.2 L96.5,216.6 L97.0,213.6 L97.5,209.6 L98.0,207.1 L98.5,203.1 L99.1,200.6 L99.6,198.0 L100.2,195.8 L101.3,194.8 L101.8,194.6 L102.4,193.5 L103.0,195.2 L103.5,197.0 L104.3,198.1 L105.1,199.3 L105.7,200.7 L106.2,202.0 L106.8,203.2 L107.3,204.4 L107.9,206.6 L108.4,209.2 L109.2,211.5 L110.0,214.4 L110.6,215.2 L111.1,216.5 L111.7,215.4 L112.2,215.8 L112.8,218.1 L113.3,221.1 L113.8,223.1 L114.3,225.0 L115.2,226.1 L116.0,227.3 L116.8,227.8 L117.6,229.9 L118.4,231.1 L119.2,232.9 L120.3,234.3 L121.4,234.9 L123.3,235.5 L125.2,236.1 L129.0,236.7 L130.5,236.8 L132.0,236.4 L133.5,236.5 L135.0,236.5 L136.5,236.7 L138.0,236.8 L139.5,237.1 L141.0,237.0 L142.5,237.0 L144.0,236.4 L145.5,236.9 L147.0,237.0 L148.5,237.0 L150.0,236.3 L151.5,236.3 L153.0,236.5 L154.5,236.8 L156.0,236.9 L157.5,236.8 L159.0,236.7 L160.5,237.0 L162.0,236.7 L163.5,236.9 L164.5,237.4 Z" fill="#000" stroke="none"/>
<path d="M100.2,194.8 L100.5,191.8 L100.8,188.8 L101.3,186.4 L101.8,184.0 L102.9,182.3 L104.0,185.0 L104.3,186.6 L104.6,188.3 L104.8,190.5 L104.9,192.7 L105.1,197.0" fill="none" stroke="#4a4a4a" stroke-width="1.35" stroke-dasharray="2.8,3.2"/>
<rect x="73.9" y="148" width="91.1" height="89.4" fill="none" stroke="#1a1a1a" stroke-width="1.2"/>
<line x1="73.9" y1="237.4" x2="165" y2="237.4" stroke="#000" stroke-width="1.6"/>
<line x1="70.90" y1="237.40" x2="73.9" y2="237.40" stroke="#000" stroke-width="1.1"/>
<line x1="71.90" y1="234.92" x2="73.9" y2="234.92" stroke="#000" stroke-width="1.1"/>
<line x1="71.90" y1="232.43" x2="73.9" y2="232.43" stroke="#000" stroke-width="1.1"/>
<line x1="71.90" y1="229.95" x2="73.9" y2="229.95" stroke="#000" stroke-width="1.1"/>
<line x1="71.90" y1="227.47" x2="73.9" y2="227.47" stroke="#000" stroke-width="1.1"/>
<line x1="71.90" y1="224.98" x2="73.9" y2="224.98" stroke="#000" stroke-width="1.1"/>
<line x1="70.90" y1="222.50" x2="73.9" y2="222.50" stroke="#000" stroke-width="1.1"/>
<line x1="71.90" y1="220.02" x2="73.9" y2="220.02" stroke="#000" stroke-width="1.1"/>
<line x1="71.90" y1="217.53" x2="73.9" y2="217.53" stroke="#000" stroke-width="1.1"/>
<line x1="71.90" y1="215.05" x2="73.9" y2="215.05" stroke="#000" stroke-width="1.1"/>
<line x1="71.90" y1="212.57" x2="73.9" y2="212.57" stroke="#000" stroke-width="1.1"/>
<line x1="71.90" y1="210.08" x2="73.9" y2="210.08" stroke="#000" stroke-width="1.1"/>
<line x1="70.90" y1="207.60" x2="73.9" y2="207.60" stroke="#000" stroke-width="1.1"/>
<line x1="71.90" y1="205.12" x2="73.9" y2="205.12" stroke="#000" stroke-width="1.1"/>
<line x1="71.90" y1="202.63" x2="73.9" y2="202.63" stroke="#000" stroke-width="1.1"/>
<line x1="71.90" y1="200.15" x2="73.9" y2="200.15" stroke="#000" stroke-width="1.1"/>
<line x1="71.90" y1="197.67" x2="73.9" y2="197.67" stroke="#000" stroke-width="1.1"/>
<line x1="71.90" y1="195.18" x2="73.9" y2="195.18" stroke="#000" stroke-width="1.1"/>
<line x1="70.90" y1="192.70" x2="73.9" y2="192.70" stroke="#000" stroke-width="1.1"/>
<line x1="71.90" y1="190.22" x2="73.9" y2="190.22" stroke="#000" stroke-width="1.1"/>
<line x1="71.90" y1="187.73" x2="73.9" y2="187.73" stroke="#000" stroke-width="1.1"/>
<line x1="71.90" y1="185.25" x2="73.9" y2="185.25" stroke="#000" stroke-width="1.1"/>
<line x1="71.90" y1="182.77" x2="73.9" y2="182.77" stroke="#000" stroke-width="1.1"/>
<line x1="71.90" y1="180.28" x2="73.9" y2="180.28" stroke="#000" stroke-width="1.1"/>
<line x1="70.90" y1="177.80" x2="73.9" y2="177.80" stroke="#000" stroke-width="1.1"/>
<line x1="71.90" y1="175.32" x2="73.9" y2="175.32" stroke="#000" stroke-width="1.1"/>
<line x1="71.90" y1="172.83" x2="73.9" y2="172.83" stroke="#000" stroke-width="1.1"/>
<line x1="71.90" y1="170.35" x2="73.9" y2="170.35" stroke="#000" stroke-width="1.1"/>
<line x1="71.90" y1="167.87" x2="73.9" y2="167.87" stroke="#000" stroke-width="1.1"/>
<line x1="71.90" y1="165.38" x2="73.9" y2="165.38" stroke="#000" stroke-width="1.1"/>
<line x1="70.90" y1="162.90" x2="73.9" y2="162.90" stroke="#000" stroke-width="1.1"/>
<line x1="71.90" y1="160.42" x2="73.9" y2="160.42" stroke="#000" stroke-width="1.1"/>
<line x1="71.90" y1="157.93" x2="73.9" y2="157.93" stroke="#000" stroke-width="1.1"/>
<line x1="71.90" y1="155.45" x2="73.9" y2="155.45" stroke="#000" stroke-width="1.1"/>
<line x1="71.90" y1="152.97" x2="73.9" y2="152.97" stroke="#000" stroke-width="1.1"/>
<line x1="71.90" y1="150.48" x2="73.9" y2="150.48" stroke="#000" stroke-width="1.1"/>
<line x1="70.90" y1="148.00" x2="73.9" y2="148.00" stroke="#000" stroke-width="1.1"/>
<text transform="translate(68.00,237.40) rotate(-90)" text-anchor="middle" font-family='"Liberation Sans", sans-serif' font-size="6.7" fill="#111" stroke="#111" stroke-width="0.25">0</text>
<text transform="translate(68.00,222.50) rotate(-90)" text-anchor="middle" font-family='"Liberation Sans", sans-serif' font-size="6.7" fill="#111" stroke="#111" stroke-width="0.25">30</text>
<text transform="translate(68.00,207.60) rotate(-90)" text-anchor="middle" font-family='"Liberation Sans", sans-serif' font-size="6.7" fill="#111" stroke="#111" stroke-width="0.25">60</text>
<text transform="translate(68.00,192.70) rotate(-90)" text-anchor="middle" font-family='"Liberation Sans", sans-serif' font-size="6.7" fill="#111" stroke="#111" stroke-width="0.25">90</text>
<text transform="translate(68.00,177.80) rotate(-90)" text-anchor="middle" font-family='"Liberation Sans", sans-serif' font-size="6.7" fill="#111" stroke="#111" stroke-width="0.25">120</text>
<text transform="translate(68.00,162.90) rotate(-90)" text-anchor="middle" font-family='"Liberation Sans", sans-serif' font-size="6.7" fill="#111" stroke="#111" stroke-width="0.25">150</text>
<text transform="translate(68.00,148.00) rotate(-90)" text-anchor="middle" font-family='"Liberation Sans", sans-serif' font-size="6.7" fill="#111" stroke="#111" stroke-width="0.25">180</text>
<line x1="73.90" y1="237.4" x2="73.90" y2="240.6" stroke="#000" stroke-width="1.1"/>
<line x1="80.76" y1="237.4" x2="80.76" y2="239.8" stroke="#000" stroke-width="1.1"/>
<line x1="84.77" y1="237.4" x2="84.77" y2="239.8" stroke="#000" stroke-width="1.1"/>
<line x1="87.61" y1="237.4" x2="87.61" y2="239.8" stroke="#000" stroke-width="1.1"/>
<line x1="89.82" y1="237.4" x2="89.82" y2="239.8" stroke="#000" stroke-width="1.1"/>
<line x1="91.62" y1="237.4" x2="91.62" y2="239.8" stroke="#000" stroke-width="1.1"/>
<line x1="93.15" y1="237.4" x2="93.15" y2="239.8" stroke="#000" stroke-width="1.1"/>
<line x1="94.47" y1="237.4" x2="94.47" y2="239.8" stroke="#000" stroke-width="1.1"/>
<line x1="95.63" y1="237.4" x2="95.63" y2="239.8" stroke="#000" stroke-width="1.1"/>
<line x1="96.68" y1="237.4" x2="96.68" y2="240.6" stroke="#000" stroke-width="1.1"/>
<line x1="103.53" y1="237.4" x2="103.53" y2="239.8" stroke="#000" stroke-width="1.1"/>
<line x1="107.54" y1="237.4" x2="107.54" y2="239.8" stroke="#000" stroke-width="1.1"/>
<line x1="110.39" y1="237.4" x2="110.39" y2="239.8" stroke="#000" stroke-width="1.1"/>
<line x1="112.59" y1="237.4" x2="112.59" y2="239.8" stroke="#000" stroke-width="1.1"/>
<line x1="114.40" y1="237.4" x2="114.40" y2="239.8" stroke="#000" stroke-width="1.1"/>
<line x1="115.92" y1="237.4" x2="115.92" y2="239.8" stroke="#000" stroke-width="1.1"/>
<line x1="117.24" y1="237.4" x2="117.24" y2="239.8" stroke="#000" stroke-width="1.1"/>
<line x1="118.41" y1="237.4" x2="118.41" y2="239.8" stroke="#000" stroke-width="1.1"/>
<line x1="119.45" y1="237.4" x2="119.45" y2="240.6" stroke="#000" stroke-width="1.1"/>
<line x1="126.31" y1="237.4" x2="126.31" y2="239.8" stroke="#000" stroke-width="1.1"/>
<line x1="130.32" y1="237.4" x2="130.32" y2="239.8" stroke="#000" stroke-width="1.1"/>
<line x1="133.16" y1="237.4" x2="133.16" y2="239.8" stroke="#000" stroke-width="1.1"/>
<line x1="135.37" y1="237.4" x2="135.37" y2="239.8" stroke="#000" stroke-width="1.1"/>
<line x1="137.17" y1="237.4" x2="137.17" y2="239.8" stroke="#000" stroke-width="1.1"/>
<line x1="138.70" y1="237.4" x2="138.70" y2="239.8" stroke="#000" stroke-width="1.1"/>
<line x1="140.02" y1="237.4" x2="140.02" y2="239.8" stroke="#000" stroke-width="1.1"/>
<line x1="141.18" y1="237.4" x2="141.18" y2="239.8" stroke="#000" stroke-width="1.1"/>
<line x1="142.22" y1="237.4" x2="142.22" y2="240.6" stroke="#000" stroke-width="1.1"/>
<line x1="149.08" y1="237.4" x2="149.08" y2="239.8" stroke="#000" stroke-width="1.1"/>
<line x1="153.09" y1="237.4" x2="153.09" y2="239.8" stroke="#000" stroke-width="1.1"/>
<line x1="155.94" y1="237.4" x2="155.94" y2="239.8" stroke="#000" stroke-width="1.1"/>
<line x1="158.14" y1="237.4" x2="158.14" y2="239.8" stroke="#000" stroke-width="1.1"/>
<line x1="159.95" y1="237.4" x2="159.95" y2="239.8" stroke="#000" stroke-width="1.1"/>
<line x1="161.47" y1="237.4" x2="161.47" y2="239.8" stroke="#000" stroke-width="1.1"/>
<line x1="162.79" y1="237.4" x2="162.79" y2="239.8" stroke="#000" stroke-width="1.1"/>
<line x1="163.96" y1="237.4" x2="163.96" y2="239.8" stroke="#000" stroke-width="1.1"/>
<line x1="165.00" y1="237.4" x2="165.00" y2="240.0" stroke="#000" stroke-width="0.8"/>
<text x="75.20" y="249.30" text-anchor="end" font-family='"Liberation Sans", sans-serif' font-size="6.7" fill="#111" stroke="#111" stroke-width="0.25">10</text>
<text x="75.60" y="245.10" text-anchor="start" font-family='"Liberation Sans", sans-serif' font-size="6.5" fill="#111" stroke="#111" stroke-width="0.2">0</text>
<text x="97.98" y="249.30" text-anchor="end" font-family='"Liberation Sans", sans-serif' font-size="6.7" fill="#111" stroke="#111" stroke-width="0.25">10</text>
<text x="98.38" y="245.10" text-anchor="start" font-family='"Liberation Sans", sans-serif' font-size="6.5" fill="#111" stroke="#111" stroke-width="0.2">1</text>
<text x="120.75" y="249.30" text-anchor="end" font-family='"Liberation Sans", sans-serif' font-size="6.7" fill="#111" stroke="#111" stroke-width="0.25">10</text>
<text x="121.15" y="245.10" text-anchor="start" font-family='"Liberation Sans", sans-serif' font-size="6.5" fill="#111" stroke="#111" stroke-width="0.2">2</text>
<text x="143.53" y="249.30" text-anchor="end" font-family='"Liberation Sans", sans-serif' font-size="6.7" fill="#111" stroke="#111" stroke-width="0.25">10</text>
<text x="143.92" y="245.10" text-anchor="start" font-family='"Liberation Sans", sans-serif' font-size="6.5" fill="#111" stroke="#111" stroke-width="0.2">3</text>
<text x="166.30" y="249.30" text-anchor="end" font-family='"Liberation Sans", sans-serif' font-size="6.7" fill="#111" stroke="#111" stroke-width="0.25">10</text>
<text x="166.70" y="245.10" text-anchor="start" font-family='"Liberation Sans", sans-serif' font-size="6.5" fill="#111" stroke="#111" stroke-width="0.2">4</text>
<text x="118.45" y="256.4" text-anchor="middle" font-family='"Liberation Sans", sans-serif' font-weight="bold" font-size="6.9" letter-spacing="-0.25" fill="#111">FL1-H</text>
<text transform="translate(60.60,194.70) rotate(-90)" text-anchor="middle" font-family='"Liberation Sans", sans-serif' font-size="7.2" fill="#111" stroke="#111" stroke-width="0.3">Counts</text>
<path d="M188.0,237.3 L188.5,235.5 L189.8,235.5 L191.1,236.0 L192.4,236.4 L193.7,235.5 L195.0,236.3 L196.3,236.3 L197.6,236.7 L198.9,236.2 L200.2,236.1 L201.5,236.1 L202.8,236.5 L204.1,236.1 L205.4,236.7 L206.7,236.4 L208.0,236.6 L209.0,236.3 L213.0,235.7 L214.1,234.1 L215.2,232.7 L215.8,229.9 L216.3,227.5 L216.8,224.0 L217.2,221.1 L217.6,217.7 L217.9,214.6 L218.3,211.3 L218.7,207.8 L219.0,204.4 L219.3,201.7 L219.7,197.7 L220.1,195.0 L220.6,192.9 L221.2,190.6 L221.8,190.1 L222.3,189.2 L223.4,188.4 L224.0,188.0 L224.5,187.5 L224.9,185.7 L225.2,185.0 L225.6,187.8 L226.1,190.8 L226.7,193.5 L227.2,196.2 L227.6,198.1 L228.0,200.7 L228.4,202.6 L228.8,204.8 L229.4,207.1 L229.9,209.6 L230.5,212.4 L231.0,215.4 L231.6,217.8 L232.1,221.2 L232.7,223.7 L233.2,226.4 L233.7,228.6 L234.2,230.9 L235.0,232.4 L235.9,233.6 L237.5,235.2 L239.1,235.8 L243.5,236.1 L247.0,236.4 L248.5,236.4 L250.0,236.9 L251.5,236.3 L253.0,236.8 L254.5,236.9 L256.0,236.8 L257.5,236.3 L259.0,236.8 L260.5,236.3 L262.0,236.1 L263.5,236.6 L265.0,236.7 L266.5,236.6 L268.0,236.4 L269.5,236.3 L271.0,236.4 L272.5,236.4 L274.0,236.9 L275.5,236.9 L277.0,236.8 L278.5,236.3 L280.0,236.7 L281.5,236.5 L283.0,237.3 Z" fill="#000" stroke="none"/>
<path d="M205.0,236.4 L207.1,235.6 L209.2,233.4 L210.9,229.6 L212.0,224.2 L212.8,217.7 L213.6,211.1 L214.5,203.5 L215.2,197.0 L215.8,190.5 L216.3,185.0 L217.1,183.8 L217.9,183.4 L218.8,183.8 L219.6,184.5 L220.1,187.2 L220.7,191.6" fill="none" stroke="#4a4a4a" stroke-width="1.35" stroke-dasharray="2.8,3.2"/>
<rect x="187.5" y="148" width="96.0" height="89.30000000000001" fill="none" stroke="#1a1a1a" stroke-width="1.2"/>
<line x1="187.5" y1="237.3" x2="283.5" y2="237.3" stroke="#000" stroke-width="1.6"/>
<line x1="184.50" y1="237.30" x2="187.5" y2="237.30" stroke="#000" stroke-width="1.1"/>
<line x1="185.50" y1="234.82" x2="187.5" y2="234.82" stroke="#000" stroke-width="1.1"/>
<line x1="185.50" y1="232.34" x2="187.5" y2="232.34" stroke="#000" stroke-width="1.1"/>
<line x1="185.50" y1="229.86" x2="187.5" y2="229.86" stroke="#000" stroke-width="1.1"/>
<line x1="185.50" y1="227.38" x2="187.5" y2="227.38" stroke="#000" stroke-width="1.1"/>
<line x1="185.50" y1="224.90" x2="187.5" y2="224.90" stroke="#000" stroke-width="1.1"/>
<line x1="184.50" y1="222.42" x2="187.5" y2="222.42" stroke="#000" stroke-width="1.1"/>
<line x1="185.50" y1="219.94" x2="187.5" y2="219.94" stroke="#000" stroke-width="1.1"/>
<line x1="185.50" y1="217.46" x2="187.5" y2="217.46" stroke="#000" stroke-width="1.1"/>
<line x1="185.50" y1="214.98" x2="187.5" y2="214.98" stroke="#000" stroke-width="1.1"/>
<line x1="185.50" y1="212.49" x2="187.5" y2="212.49" stroke="#000" stroke-width="1.1"/>
<line x1="185.50" y1="210.01" x2="187.5" y2="210.01" stroke="#000" stroke-width="1.1"/>
<line x1="184.50" y1="207.53" x2="187.5" y2="207.53" stroke="#000" stroke-width="1.1"/>
<line x1="185.50" y1="205.05" x2="187.5" y2="205.05" stroke="#000" stroke-width="1.1"/>
<line x1="185.50" y1="202.57" x2="187.5" y2="202.57" stroke="#000" stroke-width="1.1"/>
<line x1="185.50" y1="200.09" x2="187.5" y2="200.09" stroke="#000" stroke-width="1.1"/>
<line x1="185.50" y1="197.61" x2="187.5" y2="197.61" stroke="#000" stroke-width="1.1"/>
<line x1="185.50" y1="195.13" x2="187.5" y2="195.13" stroke="#000" stroke-width="1.1"/>
<line x1="184.50" y1="192.65" x2="187.5" y2="192.65" stroke="#000" stroke-width="1.1"/>
<line x1="185.50" y1="190.17" x2="187.5" y2="190.17" stroke="#000" stroke-width="1.1"/>
<line x1="185.50" y1="187.69" x2="187.5" y2="187.69" stroke="#000" stroke-width="1.1"/>
<line x1="185.50" y1="185.21" x2="187.5" y2="185.21" stroke="#000" stroke-width="1.1"/>
<line x1="185.50" y1="182.73" x2="187.5" y2="182.73" stroke="#000" stroke-width="1.1"/>
<line x1="185.50" y1="180.25" x2="187.5" y2="180.25" stroke="#000" stroke-width="1.1"/>
<line x1="184.50" y1="177.77" x2="187.5" y2="177.77" stroke="#000" stroke-width="1.1"/>
<line x1="185.50" y1="175.29" x2="187.5" y2="175.29" stroke="#000" stroke-width="1.1"/>
<line x1="185.50" y1="172.81" x2="187.5" y2="172.81" stroke="#000" stroke-width="1.1"/>
<line x1="185.50" y1="170.32" x2="187.5" y2="170.32" stroke="#000" stroke-width="1.1"/>
<line x1="185.50" y1="167.84" x2="187.5" y2="167.84" stroke="#000" stroke-width="1.1"/>
<line x1="185.50" y1="165.36" x2="187.5" y2="165.36" stroke="#000" stroke-width="1.1"/>
<line x1="184.50" y1="162.88" x2="187.5" y2="162.88" stroke="#000" stroke-width="1.1"/>
<line x1="185.50" y1="160.40" x2="187.5" y2="160.40" stroke="#000" stroke-width="1.1"/>
<line x1="185.50" y1="157.92" x2="187.5" y2="157.92" stroke="#000" stroke-width="1.1"/>
<line x1="185.50" y1="155.44" x2="187.5" y2="155.44" stroke="#000" stroke-width="1.1"/>
<line x1="185.50" y1="152.96" x2="187.5" y2="152.96" stroke="#000" stroke-width="1.1"/>
<line x1="185.50" y1="150.48" x2="187.5" y2="150.48" stroke="#000" stroke-width="1.1"/>
<line x1="184.50" y1="148.00" x2="187.5" y2="148.00" stroke="#000" stroke-width="1.1"/>
<text transform="translate(181.60,237.30) rotate(-90)" text-anchor="middle" font-family='"Liberation Sans", sans-serif' font-size="6.7" fill="#111" stroke="#111" stroke-width="0.25">0</text>
<text transform="translate(181.60,222.42) rotate(-90)" text-anchor="middle" font-family='"Liberation Sans", sans-serif' font-size="6.7" fill="#111" stroke="#111" stroke-width="0.25">30</text>
<text transform="translate(181.60,207.53) rotate(-90)" text-anchor="middle" font-family='"Liberation Sans", sans-serif' font-size="6.7" fill="#111" stroke="#111" stroke-width="0.25">60</text>
<text transform="translate(181.60,192.65) rotate(-90)" text-anchor="middle" font-family='"Liberation Sans", sans-serif' font-size="6.7" fill="#111" stroke="#111" stroke-width="0.25">90</text>
<text transform="translate(181.60,177.77) rotate(-90)" text-anchor="middle" font-family='"Liberation Sans", sans-serif' font-size="6.7" fill="#111" stroke="#111" stroke-width="0.25">120</text>
<text transform="translate(181.60,162.88) rotate(-90)" text-anchor="middle" font-family='"Liberation Sans", sans-serif' font-size="6.7" fill="#111" stroke="#111" stroke-width="0.25">150</text>
<text transform="translate(181.60,148.00) rotate(-90)" text-anchor="middle" font-family='"Liberation Sans", sans-serif' font-size="6.7" fill="#111" stroke="#111" stroke-width="0.25">180</text>
<line x1="187.50" y1="237.3" x2="187.50" y2="240.5" stroke="#000" stroke-width="1.1"/>
<line x1="194.72" y1="237.3" x2="194.72" y2="239.70000000000002" stroke="#000" stroke-width="1.1"/>
<line x1="198.95" y1="237.3" x2="198.95" y2="239.70000000000002" stroke="#000" stroke-width="1.1"/>
<line x1="201.95" y1="237.3" x2="201.95" y2="239.70000000000002" stroke="#000" stroke-width="1.1"/>
<line x1="204.28" y1="237.3" x2="204.28" y2="239.70000000000002" stroke="#000" stroke-width="1.1"/>
<line x1="206.18" y1="237.3" x2="206.18" y2="239.70000000000002" stroke="#000" stroke-width="1.1"/>
<line x1="207.78" y1="237.3" x2="207.78" y2="239.70000000000002" stroke="#000" stroke-width="1.1"/>
<line x1="209.17" y1="237.3" x2="209.17" y2="239.70000000000002" stroke="#000" stroke-width="1.1"/>
<line x1="210.40" y1="237.3" x2="210.40" y2="239.70000000000002" stroke="#000" stroke-width="1.1"/>
<line x1="211.50" y1="237.3" x2="211.50" y2="240.5" stroke="#000" stroke-width="1.1"/>
<line x1="218.72" y1="237.3" x2="218.72" y2="239.70000000000002" stroke="#000" stroke-width="1.1"/>
<line x1="222.95" y1="237.3" x2="222.95" y2="239.70000000000002" stroke="#000" stroke-width="1.1"/>
<line x1="225.95" y1="237.3" x2="225.95" y2="239.70000000000002" stroke="#000" stroke-width="1.1"/>
<line x1="228.28" y1="237.3" x2="228.28" y2="239.70000000000002" stroke="#000" stroke-width="1.1"/>
<line x1="230.18" y1="237.3" x2="230.18" y2="239.70000000000002" stroke="#000" stroke-width="1.1"/>
<line x1="231.78" y1="237.3" x2="231.78" y2="239.70000000000002" stroke="#000" stroke-width="1.1"/>
<line x1="233.17" y1="237.3" x2="233.17" y2="239.70000000000002" stroke="#000" stroke-width="1.1"/>
<line x1="234.40" y1="237.3" x2="234.40" y2="239.70000000000002" stroke="#000" stroke-width="1.1"/>
<line x1="235.50" y1="237.3" x2="235.50" y2="240.5" stroke="#000" stroke-width="1.1"/>
<line x1="242.72" y1="237.3" x2="242.72" y2="239.70000000000002" stroke="#000" stroke-width="1.1"/>
<line x1="246.95" y1="237.3" x2="246.95" y2="239.70000000000002" stroke="#000" stroke-width="1.1"/>
<line x1="249.95" y1="237.3" x2="249.95" y2="239.70000000000002" stroke="#000" stroke-width="1.1"/>
<line x1="252.28" y1="237.3" x2="252.28" y2="239.70000000000002" stroke="#000" stroke-width="1.1"/>
<line x1="254.18" y1="237.3" x2="254.18" y2="239.70000000000002" stroke="#000" stroke-width="1.1"/>
<line x1="255.78" y1="237.3" x2="255.78" y2="239.70000000000002" stroke="#000" stroke-width="1.1"/>
<line x1="257.17" y1="237.3" x2="257.17" y2="239.70000000000002" stroke="#000" stroke-width="1.1"/>
<line x1="258.40" y1="237.3" x2="258.40" y2="239.70000000000002" stroke="#000" stroke-width="1.1"/>
<line x1="259.50" y1="237.3" x2="259.50" y2="240.5" stroke="#000" stroke-width="1.1"/>
<line x1="266.72" y1="237.3" x2="266.72" y2="239.70000000000002" stroke="#000" stroke-width="1.1"/>
<line x1="270.95" y1="237.3" x2="270.95" y2="239.70000000000002" stroke="#000" stroke-width="1.1"/>
<line x1="273.95" y1="237.3" x2="273.95" y2="239.70000000000002" stroke="#000" stroke-width="1.1"/>
<line x1="276.28" y1="237.3" x2="276.28" y2="239.70000000000002" stroke="#000" stroke-width="1.1"/>
<line x1="278.18" y1="237.3" x2="278.18" y2="239.70000000000002" stroke="#000" stroke-width="1.1"/>
<line x1="279.78" y1="237.3" x2="279.78" y2="239.70000000000002" stroke="#000" stroke-width="1.1"/>
<line x1="281.17" y1="237.3" x2="281.17" y2="239.70000000000002" stroke="#000" stroke-width="1.1"/>
<line x1="282.40" y1="237.3" x2="282.40" y2="239.70000000000002" stroke="#000" stroke-width="1.1"/>
<line x1="283.50" y1="237.3" x2="283.50" y2="239.9" stroke="#000" stroke-width="0.8"/>
<text x="188.80" y="249.20" text-anchor="end" font-family='"Liberation Sans", sans-serif' font-size="6.7" fill="#111" stroke="#111" stroke-width="0.25">10</text>
<text x="189.20" y="245.00" text-anchor="start" font-family='"Liberation Sans", sans-serif' font-size="6.5" fill="#111" stroke="#111" stroke-width="0.2">0</text>
<text x="212.80" y="249.20" text-anchor="end" font-family='"Liberation Sans", sans-serif' font-size="6.7" fill="#111" stroke="#111" stroke-width="0.25">10</text>
<text x="213.20" y="245.00" text-anchor="start" font-family='"Liberation Sans", sans-serif' font-size="6.5" fill="#111" stroke="#111" stroke-width="0.2">1</text>
<text x="236.80" y="249.20" text-anchor="end" font-family='"Liberation Sans", sans-serif' font-size="6.7" fill="#111" stroke="#111" stroke-width="0.25">10</text>
<text x="237.20" y="245.00" text-anchor="start" font-family='"Liberation Sans", sans-serif' font-size="6.5" fill="#111" stroke="#111" stroke-width="0.2">2</text>
<text x="260.80" y="249.20" text-anchor="end" font-family='"Liberation Sans", sans-serif' font-size="6.7" fill="#111" stroke="#111" stroke-width="0.25">10</text>
<text x="261.20" y="245.00" text-anchor="start" font-family='"Liberation Sans", sans-serif' font-size="6.5" fill="#111" stroke="#111" stroke-width="0.2">3</text>
<text x="284.80" y="249.20" text-anchor="end" font-family='"Liberation Sans", sans-serif' font-size="6.7" fill="#111" stroke="#111" stroke-width="0.25">10</text>
<text x="285.20" y="245.00" text-anchor="start" font-family='"Liberation Sans", sans-serif' font-size="6.5" fill="#111" stroke="#111" stroke-width="0.2">4</text>
<text x="234.50" y="256.3" text-anchor="middle" font-family='"Liberation Sans", sans-serif' font-weight="bold" font-size="6.9" letter-spacing="-0.25" fill="#111">FL1-H</text>
<text transform="translate(174.20,194.65) rotate(-90)" text-anchor="middle" font-family='"Liberation Sans", sans-serif' font-size="6" fill="#c8c8c8">Counts</text>
<path d="M304.5,237.4 L305.0,236.8 L306.3,236.7 L307.6,236.5 L308.9,236.0 L310.2,236.0 L311.5,236.0 L312.8,236.5 L314.1,236.2 L315.4,236.2 L316.7,236.2 L318.0,236.7 L319.3,235.7 L320.6,236.6 L321.9,235.6 L323.2,235.7 L324.5,236.8 L325.8,236.2 L327.1,235.8 L328.0,237.2 L331.8,236.6 L333.0,234.8 L334.2,232.9 L335.1,231.4 L335.9,228.2 L336.5,225.7 L337.0,222.5 L337.6,219.3 L338.2,216.2 L338.8,212.7 L339.3,210.4 L339.9,207.8 L340.5,205.8 L341.1,203.3 L341.7,200.6 L342.2,199.2 L342.8,196.8 L343.4,194.9 L344.0,193.5 L344.5,193.0 L345.1,192.2 L345.7,193.4 L346.3,194.8 L346.9,197.3 L347.4,199.5 L348.0,202.9 L348.6,205.1 L349.1,208.0 L349.7,210.4 L350.6,212.7 L351.5,216.2 L352.3,218.9 L353.2,222.0 L354.0,223.7 L354.9,226.1 L355.8,227.6 L356.7,229.5 L357.8,230.3 L359.0,231.3 L360.1,232.4 L361.3,233.5 L362.7,234.2 L364.2,235.1 L366.5,236.3 L368.8,236.4 L373.0,237.3 L374.5,236.9 L376.0,236.9 L377.5,236.6 L379.0,236.9 L380.5,236.8 L382.0,236.2 L383.5,236.3 L385.0,236.4 L386.5,236.5 L388.0,236.3 L389.5,236.3 L391.0,236.6 L392.5,236.5 L394.0,237.1 L395.0,237.4 Z" fill="#000" stroke="none"/>
<path d="M321.5,236.6 L323.2,234.9 L324.9,230.8 L326.7,225.1 L327.8,218.2 L328.7,210.1 L329.5,203.2 L330.7,195.1 L331.3,189.3 L332.3,185.5 L333.6,183.5 L334.6,185.5 L335.3,188.2 L335.9,195.1 L337.0,204.3 L338.5,211.2" fill="none" stroke="#4a4a4a" stroke-width="1.35" stroke-dasharray="2.8,3.2"/>
<rect x="304" y="148" width="91.5" height="89.4" fill="none" stroke="#1a1a1a" stroke-width="1.2"/>
<line x1="304" y1="237.4" x2="395.5" y2="237.4" stroke="#000" stroke-width="1.6"/>
<line x1="301.00" y1="237.40" x2="304" y2="237.40" stroke="#000" stroke-width="1.1"/>
<line x1="302.00" y1="234.92" x2="304" y2="234.92" stroke="#000" stroke-width="1.1"/>
<line x1="302.00" y1="232.43" x2="304" y2="232.43" stroke="#000" stroke-width="1.1"/>
<line x1="302.00" y1="229.95" x2="304" y2="229.95" stroke="#000" stroke-width="1.1"/>
<line x1="302.00" y1="227.47" x2="304" y2="227.47" stroke="#000" stroke-width="1.1"/>
<line x1="302.00" y1="224.98" x2="304" y2="224.98" stroke="#000" stroke-width="1.1"/>
<line x1="301.00" y1="222.50" x2="304" y2="222.50" stroke="#000" stroke-width="1.1"/>
<line x1="302.00" y1="220.02" x2="304" y2="220.02" stroke="#000" stroke-width="1.1"/>
<line x1="302.00" y1="217.53" x2="304" y2="217.53" stroke="#000" stroke-width="1.1"/>
<line x1="302.00" y1="215.05" x2="304" y2="215.05" stroke="#000" stroke-width="1.1"/>
<line x1="302.00" y1="212.57" x2="304" y2="212.57" stroke="#000" stroke-width="1.1"/>
<line x1="302.00" y1="210.08" x2="304" y2="210.08" stroke="#000" stroke-width="1.1"/>
<line x1="301.00" y1="207.60" x2="304" y2="207.60" stroke="#000" stroke-width="1.1"/>
<line x1="302.00" y1="205.12" x2="304" y2="205.12" stroke="#000" stroke-width="1.1"/>
<line x1="302.00" y1="202.63" x2="304" y2="202.63" stroke="#000" stroke-width="1.1"/>
<line x1="302.00" y1="200.15" x2="304" y2="200.15" stroke="#000" stroke-width="1.1"/>
<line x1="302.00" y1="197.67" x2="304" y2="197.67" stroke="#000" stroke-width="1.1"/>
<line x1="302.00" y1="195.18" x2="304" y2="195.18" stroke="#000" stroke-width="1.1"/>
<line x1="301.00" y1="192.70" x2="304" y2="192.70" stroke="#000" stroke-width="1.1"/>
<line x1="302.00" y1="190.22" x2="304" y2="190.22" stroke="#000" stroke-width="1.1"/>
<line x1="302.00" y1="187.73" x2="304" y2="187.73" stroke="#000" stroke-width="1.1"/>
<line x1="302.00" y1="185.25" x2="304" y2="185.25" stroke="#000" stroke-width="1.1"/>
<line x1="302.00" y1="182.77" x2="304" y2="182.77" stroke="#000" stroke-width="1.1"/>
<line x1="302.00" y1="180.28" x2="304" y2="180.28" stroke="#000" stroke-width="1.1"/>
<line x1="301.00" y1="177.80" x2="304" y2="177.80" stroke="#000" stroke-width="1.1"/>
<line x1="302.00" y1="175.32" x2="304" y2="175.32" stroke="#000" stroke-width="1.1"/>
<line x1="302.00" y1="172.83" x2="304" y2="172.83" stroke="#000" stroke-width="1.1"/>
<line x1="302.00" y1="170.35" x2="304" y2="170.35" stroke="#000" stroke-width="1.1"/>
<line x1="302.00" y1="167.87" x2="304" y2="167.87" stroke="#000" stroke-width="1.1"/>
<line x1="302.00" y1="165.38" x2="304" y2="165.38" stroke="#000" stroke-width="1.1"/>
<line x1="301.00" y1="162.90" x2="304" y2="162.90" stroke="#000" stroke-width="1.1"/>
<line x1="302.00" y1="160.42" x2="304" y2="160.42" stroke="#000" stroke-width="1.1"/>
<line x1="302.00" y1="157.93" x2="304" y2="157.93" stroke="#000" stroke-width="1.1"/>
<line x1="302.00" y1="155.45" x2="304" y2="155.45" stroke="#000" stroke-width="1.1"/>
<line x1="302.00" y1="152.97" x2="304" y2="152.97" stroke="#000" stroke-width="1.1"/>
<line x1="302.00" y1="150.48" x2="304" y2="150.48" stroke="#000" stroke-width="1.1"/>
<line x1="301.00" y1="148.00" x2="304" y2="148.00" stroke="#000" stroke-width="1.1"/>
<text transform="translate(298.10,237.40) rotate(-90)" text-anchor="middle" font-family='"Liberation Sans", sans-serif' font-size="6.7" fill="#111" stroke="#111" stroke-width="0.25">0</text>
<text transform="translate(298.10,222.50) rotate(-90)" text-anchor="middle" font-family='"Liberation Sans", sans-serif' font-size="6.7" fill="#111" stroke="#111" stroke-width="0.25">30</text>
<text transform="translate(298.10,207.60) rotate(-90)" text-anchor="middle" font-family='"Liberation Sans", sans-serif' font-size="6.7" fill="#111" stroke="#111" stroke-width="0.25">60</text>
<text transform="translate(298.10,192.70) rotate(-90)" text-anchor="middle" font-family='"Liberation Sans", sans-serif' font-size="6.7" fill="#111" stroke="#111" stroke-width="0.25">90</text>
<text transform="translate(298.10,177.80) rotate(-90)" text-anchor="middle" font-family='"Liberation Sans", sans-serif' font-size="6.7" fill="#111" stroke="#111" stroke-width="0.25">120</text>
<text transform="translate(298.10,162.90) rotate(-90)" text-anchor="middle" font-family='"Liberation Sans", sans-serif' font-size="6.7" fill="#111" stroke="#111" stroke-width="0.25">150</text>
<text transform="translate(298.10,148.00) rotate(-90)" text-anchor="middle" font-family='"Liberation Sans", sans-serif' font-size="6.7" fill="#111" stroke="#111" stroke-width="0.25">180</text>
<line x1="304.00" y1="237.4" x2="304.00" y2="240.6" stroke="#000" stroke-width="1.1"/>
<line x1="310.89" y1="237.4" x2="310.89" y2="239.8" stroke="#000" stroke-width="1.1"/>
<line x1="314.91" y1="237.4" x2="314.91" y2="239.8" stroke="#000" stroke-width="1.1"/>
<line x1="317.77" y1="237.4" x2="317.77" y2="239.8" stroke="#000" stroke-width="1.1"/>
<line x1="319.99" y1="237.4" x2="319.99" y2="239.8" stroke="#000" stroke-width="1.1"/>
<line x1="321.80" y1="237.4" x2="321.80" y2="239.8" stroke="#000" stroke-width="1.1"/>
<line x1="323.33" y1="237.4" x2="323.33" y2="239.8" stroke="#000" stroke-width="1.1"/>
<line x1="324.66" y1="237.4" x2="324.66" y2="239.8" stroke="#000" stroke-width="1.1"/>
<line x1="325.83" y1="237.4" x2="325.83" y2="239.8" stroke="#000" stroke-width="1.1"/>
<line x1="326.88" y1="237.4" x2="326.88" y2="240.6" stroke="#000" stroke-width="1.1"/>
<line x1="333.76" y1="237.4" x2="333.76" y2="239.8" stroke="#000" stroke-width="1.1"/>
<line x1="337.79" y1="237.4" x2="337.79" y2="239.8" stroke="#000" stroke-width="1.1"/>
<line x1="340.65" y1="237.4" x2="340.65" y2="239.8" stroke="#000" stroke-width="1.1"/>
<line x1="342.86" y1="237.4" x2="342.86" y2="239.8" stroke="#000" stroke-width="1.1"/>
<line x1="344.68" y1="237.4" x2="344.68" y2="239.8" stroke="#000" stroke-width="1.1"/>
<line x1="346.21" y1="237.4" x2="346.21" y2="239.8" stroke="#000" stroke-width="1.1"/>
<line x1="347.53" y1="237.4" x2="347.53" y2="239.8" stroke="#000" stroke-width="1.1"/>
<line x1="348.70" y1="237.4" x2="348.70" y2="239.8" stroke="#000" stroke-width="1.1"/>
<line x1="349.75" y1="237.4" x2="349.75" y2="240.6" stroke="#000" stroke-width="1.1"/>
<line x1="356.64" y1="237.4" x2="356.64" y2="239.8" stroke="#000" stroke-width="1.1"/>
<line x1="360.66" y1="237.4" x2="360.66" y2="239.8" stroke="#000" stroke-width="1.1"/>
<line x1="363.52" y1="237.4" x2="363.52" y2="239.8" stroke="#000" stroke-width="1.1"/>
<line x1="365.74" y1="237.4" x2="365.74" y2="239.8" stroke="#000" stroke-width="1.1"/>
<line x1="367.55" y1="237.4" x2="367.55" y2="239.8" stroke="#000" stroke-width="1.1"/>
<line x1="369.08" y1="237.4" x2="369.08" y2="239.8" stroke="#000" stroke-width="1.1"/>
<line x1="370.41" y1="237.4" x2="370.41" y2="239.8" stroke="#000" stroke-width="1.1"/>
<line x1="371.58" y1="237.4" x2="371.58" y2="239.8" stroke="#000" stroke-width="1.1"/>
<line x1="372.62" y1="237.4" x2="372.62" y2="240.6" stroke="#000" stroke-width="1.1"/>
<line x1="379.51" y1="237.4" x2="379.51" y2="239.8" stroke="#000" stroke-width="1.1"/>
<line x1="383.54" y1="237.4" x2="383.54" y2="239.8" stroke="#000" stroke-width="1.1"/>
<line x1="386.40" y1="237.4" x2="386.40" y2="239.8" stroke="#000" stroke-width="1.1"/>
<line x1="388.61" y1="237.4" x2="388.61" y2="239.8" stroke="#000" stroke-width="1.1"/>
<line x1="390.43" y1="237.4" x2="390.43" y2="239.8" stroke="#000" stroke-width="1.1"/>
<line x1="391.96" y1="237.4" x2="391.96" y2="239.8" stroke="#000" stroke-width="1.1"/>
<line x1="393.28" y1="237.4" x2="393.28" y2="239.8" stroke="#000" stroke-width="1.1"/>
<line x1="394.45" y1="237.4" x2="394.45" y2="239.8" stroke="#000" stroke-width="1.1"/>
<line x1="395.50" y1="237.4" x2="395.50" y2="240.0" stroke="#000" stroke-width="0.8"/>
<text x="305.30" y="249.30" text-anchor="end" font-family='"Liberation Sans", sans-serif' font-size="6.7" fill="#111" stroke="#111" stroke-width="0.25">10</text>
<text x="305.70" y="245.10" text-anchor="start" font-family='"Liberation Sans", sans-serif' font-size="6.5" fill="#111" stroke="#111" stroke-width="0.2">0</text>
<text x="328.18" y="249.30" text-anchor="end" font-family='"Liberation Sans", sans-serif' font-size="6.7" fill="#111" stroke="#111" stroke-width="0.25">10</text>
<text x="328.57" y="245.10" text-anchor="start" font-family='"Liberation Sans", sans-serif' font-size="6.5" fill="#111" stroke="#111" stroke-width="0.2">1</text>
<text x="351.05" y="249.30" text-anchor="end" font-family='"Liberation Sans", sans-serif' font-size="6.7" fill="#111" stroke="#111" stroke-width="0.25">10</text>
<text x="351.45" y="245.10" text-anchor="start" font-family='"Liberation Sans", sans-serif' font-size="6.5" fill="#111" stroke="#111" stroke-width="0.2">2</text>
<text x="373.93" y="249.30" text-anchor="end" font-family='"Liberation Sans", sans-serif' font-size="6.7" fill="#111" stroke="#111" stroke-width="0.25">10</text>
<text x="374.32" y="245.10" text-anchor="start" font-family='"Liberation Sans", sans-serif' font-size="6.5" fill="#111" stroke="#111" stroke-width="0.2">3</text>
<text x="396.80" y="249.30" text-anchor="end" font-family='"Liberation Sans", sans-serif' font-size="6.7" fill="#111" stroke="#111" stroke-width="0.25">10</text>
<text x="397.20" y="245.10" text-anchor="start" font-family='"Liberation Sans", sans-serif' font-size="6.5" fill="#111" stroke="#111" stroke-width="0.2">4</text>
<text x="348.75" y="256.4" text-anchor="middle" font-family='"Liberation Sans", sans-serif' font-weight="bold" font-size="6.9" letter-spacing="-0.25" fill="#111">FL1-H</text>
<text transform="translate(290.70,194.70) rotate(-90)" text-anchor="middle" font-family='"Liberation Sans", sans-serif' font-size="6" fill="#e6e6e6">Counts</text>
<path d="M418.8,237.4 L419.3,235.9 L420.6,236.3 L421.9,235.9 L423.2,236.0 L424.5,236.5 L425.8,236.7 L427.1,235.7 L428.4,236.6 L429.7,236.2 L431.0,236.4 L432.3,236.4 L433.6,235.9 L434.9,235.6 L436.2,236.5 L437.5,236.0 L438.0,236.6 L441.2,236.6 L442.4,234.9 L443.6,233.2 L444.2,230.2 L444.8,227.2 L445.1,224.3 L445.4,220.3 L445.7,216.4 L446.0,213.5 L446.3,209.9 L446.6,205.9 L446.9,202.0 L447.2,198.4 L447.5,194.6 L447.8,191.3 L448.1,188.0 L448.4,185.2 L449.0,182.2 L449.3,179.1 L449.6,176.7 L449.9,179.2 L450.2,181.7 L451.1,182.3 L452.0,183.0 L452.6,185.3 L453.2,187.7 L453.8,190.4 L454.4,193.6 L455.0,197.2 L455.6,199.6 L456.2,203.5 L456.8,207.2 L457.4,211.6 L458.0,215.2 L458.6,218.9 L459.3,222.5 L459.9,225.0 L460.5,227.5 L461.4,230.0 L462.3,232.0 L463.5,233.2 L464.7,233.7 L466.8,234.6 L468.9,236.1 L473.7,236.9 L478.0,236.8 L479.5,236.6 L481.0,237.1 L482.5,236.7 L484.0,236.3 L485.5,236.4 L487.0,236.3 L488.5,236.2 L490.0,236.9 L491.5,237.0 L493.0,237.0 L494.5,236.6 L496.0,236.5 L497.5,236.3 L499.0,236.5 L500.5,236.5 L502.0,236.4 L503.5,236.7 L505.0,236.6 L506.5,237.1 L508.0,236.4 L509.5,236.9 L511.0,236.3 L513.0,237.4 Z" fill="#000" stroke="none"/>
<path d="M436.0,236.5 L438.2,234.7 L440.0,231.1 L441.8,226.3 L443.0,219.1 L443.6,213.1 L444.2,207.1 L445.2,201.1 L446.0,193.8 L446.6,187.8 L447.2,184.3 L447.8,181.8 L448.5,182.5" fill="none" stroke="#4a4a4a" stroke-width="1.35" stroke-dasharray="2.8,3.2"/>
<rect x="418.3" y="148" width="95.19999999999999" height="89.4" fill="none" stroke="#1a1a1a" stroke-width="1.2"/>
<line x1="418.3" y1="237.4" x2="513.5" y2="237.4" stroke="#000" stroke-width="1.6"/>
<line x1="415.30" y1="237.40" x2="418.3" y2="237.40" stroke="#000" stroke-width="1.1"/>
<line x1="416.30" y1="234.92" x2="418.3" y2="234.92" stroke="#000" stroke-width="1.1"/>
<line x1="416.30" y1="232.43" x2="418.3" y2="232.43" stroke="#000" stroke-width="1.1"/>
<line x1="416.30" y1="229.95" x2="418.3" y2="229.95" stroke="#000" stroke-width="1.1"/>
<line x1="416.30" y1="227.47" x2="418.3" y2="227.47" stroke="#000" stroke-width="1.1"/>
<line x1="416.30" y1="224.98" x2="418.3" y2="224.98" stroke="#000" stroke-width="1.1"/>
<line x1="415.30" y1="222.50" x2="418.3" y2="222.50" stroke="#000" stroke-width="1.1"/>
<line x1="416.30" y1="220.02" x2="418.3" y2="220.02" stroke="#000" stroke-width="1.1"/>
<line x1="416.30" y1="217.53" x2="418.3" y2="217.53" stroke="#000" stroke-width="1.1"/>
<line x1="416.30" y1="215.05" x2="418.3" y2="215.05" stroke="#000" stroke-width="1.1"/>
<line x1="416.30" y1="212.57" x2="418.3" y2="212.57" stroke="#000" stroke-width="1.1"/>
<line x1="416.30" y1="210.08" x2="418.3" y2="210.08" stroke="#000" stroke-width="1.1"/>
<line x1="415.30" y1="207.60" x2="418.3" y2="207.60" stroke="#000" stroke-width="1.1"/>
<line x1="416.30" y1="205.12" x2="418.3" y2="205.12" stroke="#000" stroke-width="1.1"/>
<line x1="416.30" y1="202.63" x2="418.3" y2="202.63" stroke="#000" stroke-width="1.1"/>
<line x1="416.30" y1="200.15" x2="418.3" y2="200.15" stroke="#000" stroke-width="1.1"/>
<line x1="416.30" y1="197.67" x2="418.3" y2="197.67" stroke="#000" stroke-width="1.1"/>
<line x1="416.30" y1="195.18" x2="418.3" y2="195.18" stroke="#000" stroke-width="1.1"/>
<line x1="415.30" y1="192.70" x2="418.3" y2="192.70" stroke="#000" stroke-width="1.1"/>
<line x1="416.30" y1="190.22" x2="418.3" y2="190.22" stroke="#000" stroke-width="1.1"/>
<line x1="416.30" y1="187.73" x2="418.3" y2="187.73" stroke="#000" stroke-width="1.1"/>
<line x1="416.30" y1="185.25" x2="418.3" y2="185.25" stroke="#000" stroke-width="1.1"/>
<line x1="416.30" y1="182.77" x2="418.3" y2="182.77" stroke="#000" stroke-width="1.1"/>
<line x1="416.30" y1="180.28" x2="418.3" y2="180.28" stroke="#000" stroke-width="1.1"/>
<line x1="415.30" y1="177.80" x2="418.3" y2="177.80" stroke="#000" stroke-width="1.1"/>
<line x1="416.30" y1="175.32" x2="418.3" y2="175.32" stroke="#000" stroke-width="1.1"/>
<line x1="416.30" y1="172.83" x2="418.3" y2="172.83" stroke="#000" stroke-width="1.1"/>
<line x1="416.30" y1="170.35" x2="418.3" y2="170.35" stroke="#000" stroke-width="1.1"/>
<line x1="416.30" y1="167.87" x2="418.3" y2="167.87" stroke="#000" stroke-width="1.1"/>
<line x1="416.30" y1="165.38" x2="418.3" y2="165.38" stroke="#000" stroke-width="1.1"/>
<line x1="415.30" y1="162.90" x2="418.3" y2="162.90" stroke="#000" stroke-width="1.1"/>
<line x1="416.30" y1="160.42" x2="418.3" y2="160.42" stroke="#000" stroke-width="1.1"/>
<line x1="416.30" y1="157.93" x2="418.3" y2="157.93" stroke="#000" stroke-width="1.1"/>
<line x1="416.30" y1="155.45" x2="418.3" y2="155.45" stroke="#000" stroke-width="1.1"/>
<line x1="416.30" y1="152.97" x2="418.3" y2="152.97" stroke="#000" stroke-width="1.1"/>
<line x1="416.30" y1="150.48" x2="418.3" y2="150.48" stroke="#000" stroke-width="1.1"/>
<line x1="415.30" y1="148.00" x2="418.3" y2="148.00" stroke="#000" stroke-width="1.1"/>
<text transform="translate(412.40,237.40) rotate(-90)" text-anchor="middle" font-family='"Liberation Sans", sans-serif' font-size="6.7" fill="#111" stroke="#111" stroke-width="0.25">0</text>
<text transform="translate(412.40,222.50) rotate(-90)" text-anchor="middle" font-family='"Liberation Sans", sans-serif' font-size="6.7" fill="#111" stroke="#111" stroke-width="0.25">30</text>
<text transform="translate(412.40,207.60) rotate(-90)" text-anchor="middle" font-family='"Liberation Sans", sans-serif' font-size="6.7" fill="#111" stroke="#111" stroke-width="0.25">60</text>
<text transform="translate(412.40,192.70) rotate(-90)" text-anchor="middle" font-family='"Liberation Sans", sans-serif' font-size="6.7" fill="#111" stroke="#111" stroke-width="0.25">90</text>
<text transform="translate(412.40,177.80) rotate(-90)" text-anchor="middle" font-family='"Liberation Sans", sans-serif' font-size="6.7" fill="#111" stroke="#111" stroke-width="0.25">120</text>
<text transform="translate(412.40,162.90) rotate(-90)" text-anchor="middle" font-family='"Liberation Sans", sans-serif' font-size="6.7" fill="#111" stroke="#111" stroke-width="0.25">150</text>
<text transform="translate(412.40,148.00) rotate(-90)" text-anchor="middle" font-family='"Liberation Sans", sans-serif' font-size="6.7" fill="#111" stroke="#111" stroke-width="0.25">180</text>
<line x1="418.30" y1="237.4" x2="418.30" y2="240.6" stroke="#000" stroke-width="1.1"/>
<line x1="425.46" y1="237.4" x2="425.46" y2="239.8" stroke="#000" stroke-width="1.1"/>
<line x1="429.66" y1="237.4" x2="429.66" y2="239.8" stroke="#000" stroke-width="1.1"/>
<line x1="432.63" y1="237.4" x2="432.63" y2="239.8" stroke="#000" stroke-width="1.1"/>
<line x1="434.94" y1="237.4" x2="434.94" y2="239.8" stroke="#000" stroke-width="1.1"/>
<line x1="436.82" y1="237.4" x2="436.82" y2="239.8" stroke="#000" stroke-width="1.1"/>
<line x1="438.41" y1="237.4" x2="438.41" y2="239.8" stroke="#000" stroke-width="1.1"/>
<line x1="439.79" y1="237.4" x2="439.79" y2="239.8" stroke="#000" stroke-width="1.1"/>
<line x1="441.01" y1="237.4" x2="441.01" y2="239.8" stroke="#000" stroke-width="1.1"/>
<line x1="442.10" y1="237.4" x2="442.10" y2="240.6" stroke="#000" stroke-width="1.1"/>
<line x1="449.26" y1="237.4" x2="449.26" y2="239.8" stroke="#000" stroke-width="1.1"/>
<line x1="453.46" y1="237.4" x2="453.46" y2="239.8" stroke="#000" stroke-width="1.1"/>
<line x1="456.43" y1="237.4" x2="456.43" y2="239.8" stroke="#000" stroke-width="1.1"/>
<line x1="458.74" y1="237.4" x2="458.74" y2="239.8" stroke="#000" stroke-width="1.1"/>
<line x1="460.62" y1="237.4" x2="460.62" y2="239.8" stroke="#000" stroke-width="1.1"/>
<line x1="462.21" y1="237.4" x2="462.21" y2="239.8" stroke="#000" stroke-width="1.1"/>
<line x1="463.59" y1="237.4" x2="463.59" y2="239.8" stroke="#000" stroke-width="1.1"/>
<line x1="464.81" y1="237.4" x2="464.81" y2="239.8" stroke="#000" stroke-width="1.1"/>
<line x1="465.90" y1="237.4" x2="465.90" y2="240.6" stroke="#000" stroke-width="1.1"/>
<line x1="473.06" y1="237.4" x2="473.06" y2="239.8" stroke="#000" stroke-width="1.1"/>
<line x1="477.26" y1="237.4" x2="477.26" y2="239.8" stroke="#000" stroke-width="1.1"/>
<line x1="480.23" y1="237.4" x2="480.23" y2="239.8" stroke="#000" stroke-width="1.1"/>
<line x1="482.54" y1="237.4" x2="482.54" y2="239.8" stroke="#000" stroke-width="1.1"/>
<line x1="484.42" y1="237.4" x2="484.42" y2="239.8" stroke="#000" stroke-width="1.1"/>
<line x1="486.01" y1="237.4" x2="486.01" y2="239.8" stroke="#000" stroke-width="1.1"/>
<line x1="487.39" y1="237.4" x2="487.39" y2="239.8" stroke="#000" stroke-width="1.1"/>
<line x1="488.61" y1="237.4" x2="488.61" y2="239.8" stroke="#000" stroke-width="1.1"/>
<line x1="489.70" y1="237.4" x2="489.70" y2="240.6" stroke="#000" stroke-width="1.1"/>
<line x1="496.86" y1="237.4" x2="496.86" y2="239.8" stroke="#000" stroke-width="1.1"/>
<line x1="501.06" y1="237.4" x2="501.06" y2="239.8" stroke="#000" stroke-width="1.1"/>
<line x1="504.03" y1="237.4" x2="504.03" y2="239.8" stroke="#000" stroke-width="1.1"/>
<line x1="506.34" y1="237.4" x2="506.34" y2="239.8" stroke="#000" stroke-width="1.1"/>
<line x1="508.22" y1="237.4" x2="508.22" y2="239.8" stroke="#000" stroke-width="1.1"/>
<line x1="509.81" y1="237.4" x2="509.81" y2="239.8" stroke="#000" stroke-width="1.1"/>
<line x1="511.19" y1="237.4" x2="511.19" y2="239.8" stroke="#000" stroke-width="1.1"/>
<line x1="512.41" y1="237.4" x2="512.41" y2="239.8" stroke="#000" stroke-width="1.1"/>
<line x1="513.50" y1="237.4" x2="513.50" y2="240.0" stroke="#000" stroke-width="0.8"/>
<text x="419.60" y="249.30" text-anchor="end" font-family='"Liberation Sans", sans-serif' font-size="6.7" fill="#111" stroke="#111" stroke-width="0.25">10</text>
<text x="420.00" y="245.10" text-anchor="start" font-family='"Liberation Sans", sans-serif' font-size="6.5" fill="#111" stroke="#111" stroke-width="0.2">0</text>
<text x="443.40" y="249.30" text-anchor="end" font-family='"Liberation Sans", sans-serif' font-size="6.7" fill="#111" stroke="#111" stroke-width="0.25">10</text>
<text x="443.80" y="245.10" text-anchor="start" font-family='"Liberation Sans", sans-serif' font-size="6.5" fill="#111" stroke="#111" stroke-width="0.2">1</text>
<text x="467.20" y="249.30" text-anchor="end" font-family='"Liberation Sans", sans-serif' font-size="6.7" fill="#111" stroke="#111" stroke-width="0.25">10</text>
<text x="467.60" y="245.10" text-anchor="start" font-family='"Liberation Sans", sans-serif' font-size="6.5" fill="#111" stroke="#111" stroke-width="0.2">2</text>
<text x="491.00" y="249.30" text-anchor="end" font-family='"Liberation Sans", sans-serif' font-size="6.7" fill="#111" stroke="#111" stroke-width="0.25">10</text>
<text x="491.40" y="245.10" text-anchor="start" font-family='"Liberation Sans", sans-serif' font-size="6.5" fill="#111" stroke="#111" stroke-width="0.2">3</text>
<text x="514.80" y="249.30" text-anchor="end" font-family='"Liberation Sans", sans-serif' font-size="6.7" fill="#111" stroke="#111" stroke-width="0.25">10</text>
<text x="515.20" y="245.10" text-anchor="start" font-family='"Liberation Sans", sans-serif' font-size="6.5" fill="#111" stroke="#111" stroke-width="0.2">4</text>
<text x="464.90" y="256.4" text-anchor="middle" font-family='"Liberation Sans", sans-serif' font-weight="bold" font-size="6.9" letter-spacing="-0.25" fill="#111">FL1-H</text>
<text transform="translate(405.00,194.70) rotate(-90)" text-anchor="middle" font-family='"Liberation Sans", sans-serif' font-size="6" fill="#e6e6e6">Counts</text>
<text x="0" y="301.6" font-family='"Liberation Sans", sans-serif' font-weight="bold" font-size="23.5" fill="#000">B</text>
<line x1="34" y1="288.5" x2="34" y2="605" stroke="#7a7a7a" stroke-width="1.3"/>
<line x1="34" y1="574.50" x2="36" y2="574.50" stroke="#555" stroke-width="0.9"/>
<text x="30.6" y="577.23" text-anchor="end" font-family='"Liberation Serif", serif' font-size="11.8" fill="#1a1a1a" stroke="#1a1a1a" stroke-width="0.1">0</text>
<line x1="34" y1="533.71" x2="36" y2="533.71" stroke="#555" stroke-width="0.9"/>
<text x="30.6" y="536.79" text-anchor="end" font-family='"Liberation Serif", serif' font-size="11.8" fill="#1a1a1a" stroke="#1a1a1a" stroke-width="0.1">10</text>
<line x1="34" y1="492.92" x2="36" y2="492.92" stroke="#555" stroke-width="0.9"/>
<text x="30.6" y="496.35" text-anchor="end" font-family='"Liberation Serif", serif' font-size="11.8" fill="#1a1a1a" stroke="#1a1a1a" stroke-width="0.1">20</text>
<line x1="34" y1="452.13" x2="36" y2="452.13" stroke="#555" stroke-width="0.9"/>
<text x="30.6" y="455.91" text-anchor="end" font-family='"Liberation Serif", serif' font-size="11.8" fill="#1a1a1a" stroke="#1a1a1a" stroke-width="0.1">30</text>
<line x1="34" y1="411.34" x2="36" y2="411.34" stroke="#555" stroke-width="0.9"/>
<text x="30.6" y="415.47" text-anchor="end" font-family='"Liberation Serif", serif' font-size="11.8" fill="#1a1a1a" stroke="#1a1a1a" stroke-width="0.1">40</text>
<line x1="34" y1="370.55" x2="36" y2="370.55" stroke="#555" stroke-width="0.9"/>
<text x="30.6" y="375.03" text-anchor="end" font-family='"Liberation Serif", serif' font-size="11.8" fill="#1a1a1a" stroke="#1a1a1a" stroke-width="0.1">50</text>
<line x1="34" y1="329.76" x2="36" y2="329.76" stroke="#555" stroke-width="0.9"/>
<text x="30.6" y="334.59" text-anchor="end" font-family='"Liberation Serif", serif' font-size="11.8" fill="#1a1a1a" stroke="#1a1a1a" stroke-width="0.1">60</text>
<line x1="34" y1="288.97" x2="36" y2="288.97" stroke="#555" stroke-width="0.9"/>
<text x="30.6" y="294.15" text-anchor="end" font-family='"Liberation Serif", serif' font-size="11.8" fill="#1a1a1a" stroke="#1a1a1a" stroke-width="0.1">70</text>
<text transform="translate(8.3,441.6) rotate(-90)" text-anchor="middle" font-family='"Liberation Serif", serif' font-weight="bold" font-size="11.4" letter-spacing="0.27" fill="#111">Percentage of positive cells (%)</text>
<line x1="34" y1="574.5" x2="520" y2="574.5" stroke="#444" stroke-width="1.1"/>
<line x1="93.75" y1="574.5" x2="93.75" y2="590" stroke="#555" stroke-width="1"/>
<line x1="154.50" y1="574.5" x2="154.50" y2="605" stroke="#555" stroke-width="1"/>
<line x1="215.25" y1="574.5" x2="215.25" y2="590" stroke="#555" stroke-width="1"/>
<line x1="276.00" y1="574.5" x2="276.00" y2="605" stroke="#555" stroke-width="1"/>
<line x1="336.75" y1="574.5" x2="336.75" y2="590" stroke="#555" stroke-width="1"/>
<line x1="397.50" y1="574.5" x2="397.50" y2="605" stroke="#555" stroke-width="1"/>
<line x1="458.25" y1="574.5" x2="458.25" y2="590" stroke="#555" stroke-width="1"/>
<line x1="519.00" y1="574.5" x2="519.00" y2="605" stroke="#555" stroke-width="1"/>
<line x1="63.50" y1="558.0" x2="63.50" y2="550.2" stroke="#666" stroke-width="1"/>
<line x1="61.30" y1="550.2" x2="65.70" y2="550.2" stroke="#222" stroke-width="1.3"/>
<rect x="50.70" y="558.0" width="25.60" height="16.50" fill="#000" stroke="#2a2a2a" stroke-width="1.1"/>
<text x="60.20" y="586" text-anchor="middle" font-family='"Liberation Serif", serif' font-size="10.6" fill="#111">before</text>
<text x="60.20" y="599.4" text-anchor="middle" font-family='"Liberation Serif", serif' font-size="10.6" fill="#111">therapy</text>
<line x1="124.50" y1="556.1" x2="124.50" y2="552.0" stroke="#666" stroke-width="1"/>
<line x1="122.30" y1="552.0" x2="126.70" y2="552.0" stroke="#222" stroke-width="1.3"/>
<rect x="112.10" y="556.1" width="24.80" height="18.40" fill="#858585" stroke="#2a2a2a" stroke-width="1.1"/>
<text x="125.60" y="586" text-anchor="middle" font-family='"Liberation Serif", serif' font-size="10.6" fill="#111">after</text>
<text x="125.60" y="599.4" text-anchor="middle" font-family='"Liberation Serif", serif' font-size="10.6" fill="#111">therapy</text>
<line x1="185.50" y1="399.3" x2="185.50" y2="354.4" stroke="#666" stroke-width="1"/>
<line x1="183.30" y1="354.4" x2="187.70" y2="354.4" stroke="#222" stroke-width="1.3"/>
<rect x="172.10" y="399.3" width="26.40" height="175.20" fill="#000" stroke="#2a2a2a" stroke-width="1.1"/>
<text x="185.50" y="586" text-anchor="middle" font-family='"Liberation Serif", serif' font-size="10.6" fill="#111">before</text>
<text x="185.50" y="599.4" text-anchor="middle" font-family='"Liberation Serif", serif' font-size="10.6" fill="#111">therapy</text>
<line x1="246.50" y1="465.8" x2="246.50" y2="429.7" stroke="#666" stroke-width="1"/>
<line x1="244.30" y1="429.7" x2="248.70" y2="429.7" stroke="#222" stroke-width="1.3"/>
<rect x="233.60" y="465.8" width="25.10" height="108.70" fill="#858585" stroke="#2a2a2a" stroke-width="1.1"/>
<text x="247.10" y="586" text-anchor="middle" font-family='"Liberation Serif", serif' font-size="10.6" fill="#111">after</text>
<text x="247.10" y="599.4" text-anchor="middle" font-family='"Liberation Serif", serif' font-size="10.6" fill="#111">therapy</text>
<line x1="306.50" y1="475.9" x2="306.50" y2="430.4" stroke="#666" stroke-width="1"/>
<line x1="304.30" y1="430.4" x2="308.70" y2="430.4" stroke="#222" stroke-width="1.3"/>
<rect x="293.60" y="475.9" width="26.00" height="98.60" fill="#000" stroke="#2a2a2a" stroke-width="1.1"/>
<text x="307.00" y="586" text-anchor="middle" font-family='"Liberation Serif", serif' font-size="10.6" fill="#111">before</text>
<text x="307.00" y="599.4" text-anchor="middle" font-family='"Liberation Serif", serif' font-size="10.6" fill="#111">therapy</text>
<line x1="367.50" y1="372.0" x2="367.50" y2="316.3" stroke="#666" stroke-width="1"/>
<line x1="365.30" y1="316.3" x2="369.70" y2="316.3" stroke="#222" stroke-width="1.3"/>
<rect x="355.30" y="372.0" width="25.30" height="202.50" fill="#858585" stroke="#2a2a2a" stroke-width="1.1"/>
<text x="369.40" y="586" text-anchor="middle" font-family='"Liberation Serif", serif' font-size="10.6" fill="#111">after</text>
<text x="369.40" y="599.4" text-anchor="middle" font-family='"Liberation Serif", serif' font-size="10.6" fill="#111">therapy</text>
<line x1="428.50" y1="545.0" x2="428.50" y2="529.5" stroke="#666" stroke-width="1"/>
<line x1="426.30" y1="529.5" x2="430.70" y2="529.5" stroke="#222" stroke-width="1.3"/>
<rect x="415.50" y="545.0" width="25.30" height="29.50" fill="#000" stroke="#2a2a2a" stroke-width="1.1"/>
<text x="427.80" y="586" text-anchor="middle" font-family='"Liberation Serif", serif' font-size="10.6" fill="#111">before</text>
<text x="427.80" y="599.4" text-anchor="middle" font-family='"Liberation Serif", serif' font-size="10.6" fill="#111">therapy</text>
<line x1="488.50" y1="545.5" x2="488.50" y2="535.5" stroke="#666" stroke-width="1"/>
<line x1="486.30" y1="535.5" x2="490.70" y2="535.5" stroke="#222" stroke-width="1.3"/>
<rect x="476.30" y="545.5" width="25.00" height="29.00" fill="#858585" stroke="#2a2a2a" stroke-width="1.1"/>
<text x="491.30" y="586" text-anchor="middle" font-family='"Liberation Serif", serif' font-size="10.6" fill="#111">after</text>
<text x="491.30" y="599.4" text-anchor="middle" font-family='"Liberation Serif", serif' font-size="10.6" fill="#111">therapy</text>
<text x="93.30" y="604.2" text-anchor="middle" font-family='"Liberation Serif", serif' font-size="11.2" fill="#111">R1</text>
<text x="217.50" y="604.2" text-anchor="middle" font-family='"Liberation Serif", serif' font-size="11.2" fill="#111">R2</text>
<text x="338.60" y="604.2" text-anchor="middle" font-family='"Liberation Serif", serif' font-size="11.2" fill="#111">R3</text>
<text x="457.90" y="604.2" text-anchor="middle" font-family='"Liberation Serif", serif' font-size="11.2" fill="#111">R4</text>
<line x1="297" y1="307.3" x2="370.5" y2="307.3" stroke="#6a6a6a" stroke-width="1.2"/>
<path d="M328.15,297.30 L327.35,301.25 A1.25,1.25 0 0 0 329.85,301.25 L329.05,297.30 Z" fill="#000"/><path d="M328.38,297.69 L331.40,300.36 A1.25,1.25 0 0 0 332.65,298.19 L328.83,296.91 Z" fill="#000"/><path d="M328.83,297.69 L332.65,296.41 A1.25,1.25 0 0 0 331.40,294.24 L328.38,296.91 Z" fill="#000"/><path d="M328.38,296.91 L324.55,298.19 A1.25,1.25 0 0 0 325.80,300.36 L328.83,297.69 Z" fill="#000"/><path d="M328.83,296.91 L325.80,294.24 A1.25,1.25 0 0 0 324.55,296.41 L328.38,297.69 Z" fill="#000"/><path d="M329.05,297.30 L329.85,293.35 A1.25,1.25 0 0 0 327.35,293.35 L328.15,297.30 Z" fill="#000"/>
<path d="M341.45,297.30 L340.65,301.25 A1.25,1.25 0 0 0 343.15,301.25 L342.35,297.30 Z" fill="#000"/><path d="M341.67,297.69 L344.70,300.36 A1.25,1.25 0 0 0 345.95,298.19 L342.12,296.91 Z" fill="#000"/><path d="M342.12,297.69 L345.95,296.41 A1.25,1.25 0 0 0 344.70,294.24 L341.67,296.91 Z" fill="#000"/><path d="M341.67,296.91 L337.85,298.19 A1.25,1.25 0 0 0 339.10,300.36 L342.12,297.69 Z" fill="#000"/><path d="M342.12,296.91 L339.10,294.24 A1.25,1.25 0 0 0 337.85,296.41 L341.67,297.69 Z" fill="#000"/><path d="M342.35,297.30 L343.15,293.35 A1.25,1.25 0 0 0 340.65,293.35 L341.45,297.30 Z" fill="#000"/>
</svg>
</body></html>
